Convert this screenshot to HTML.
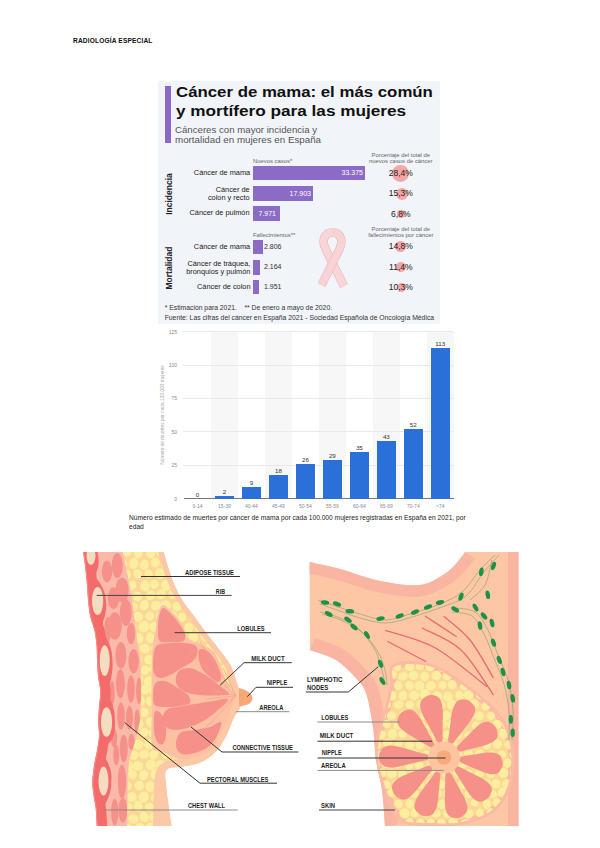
<!DOCTYPE html>
<html><head><meta charset="utf-8">
<style>
*{margin:0;padding:0;box-sizing:border-box}
html,body{width:600px;height:848px;background:#fff;overflow:hidden;font-family:"Liberation Sans",sans-serif}
.a{position:absolute;white-space:nowrap}
#hdr{left:73px;top:36.8px;font-size:6.6px;font-weight:bold;color:#111;letter-spacing:0.15px}
#info{position:absolute;left:158px;top:81px;width:282px;height:243px;background:#f1f4f9}
#info .a{line-height:1}
.lab{font-size:6.8px;color:#222;text-align:right;transform:scaleX(1.08);transform-origin:100% 0}
.sm{font-size:5.9px;color:#666}
.pct{font-size:8.5px;color:#222}
.circ{position:absolute;border-radius:50%;background:#f6a6a6}
.bar{position:absolute;background:#8c6bc7}
#chart{position:absolute;left:140px;top:325px;width:318px;height:185px}
.band{position:absolute;top:6px;height:168px;width:27px;background:#f7f7f8}
.grid{position:absolute;left:43px;width:270px;height:1px;background:#eaeaea}
.ylab{position:absolute;width:20px;text-align:right;font-size:4.5px;color:#777;left:17px}
.cb{position:absolute;width:19px;background:#2b6fd8}
.vl{position:absolute;width:27px;text-align:center;font-size:5px;color:#333;font-weight:bold}
.xl{position:absolute;width:27px;text-align:center;font-size:4.5px;color:#777;top:177px}
</style></head>
<body>
<div class="a" id="hdr">RADIOLOGÍA ESPECIAL</div>

<div id="info">
<div style="position:absolute;left:7px;top:4.7px;width:6px;height:57.6px;background:#8b67c6"></div>
<div class="a" id="t1" style="left:18px;top:3.8px;font-size:14.5px;transform:scaleX(1.159);transform-origin:0 0;font-weight:bold;color:#111">Cáncer de mama: el más común</div>
<div class="a" id="t2" style="left:18px;top:22.9px;font-size:14.5px;transform:scaleX(1.185);transform-origin:0 0;font-weight:bold;color:#111">y mortífero para las mujeres</div>
<div class="a" id="s1" style="left:17.3px;top:44.7px;font-size:8.8px;transform:scaleX(1.097);transform-origin:0 0;color:#555">Cánceres con mayor incidencia y</div>
<div class="a" id="s2" style="left:17.3px;top:55.4px;font-size:8.8px;transform:scaleX(1.11);transform-origin:0 0;color:#555">mortalidad en mujeres en España</div>

<div class="a" style="left:10.6px;top:112.8px;transform:translate(-50%,-50%) rotate(-90deg);font-size:8.5px;font-weight:bold;color:#222">Incidencia</div>
<div class="a" style="left:10.6px;top:187px;transform:translate(-50%,-50%) rotate(-90deg);font-size:8.5px;font-weight:bold;color:#222">Mortalidad</div>

<div class="a sm" style="left:95px;top:77.5px">Nuevos casos*</div>
<div class="a sm" style="left:95px;top:151.5px">Fallecimientos**</div>
<div class="a sm" style="left:242.8px;top:71px;transform:translateX(-50%);text-align:center;line-height:6px">Porcentaje del total de<br>nuevos casos de cáncer</div>
<div class="a sm" style="left:242.8px;top:145px;transform:translateX(-50%);text-align:center;line-height:6px">Porcentaje del total de<br>fallecimientos por cáncer</div>

<div class="bar" style="left:95px;top:85px;width:112.3px;height:14px"></div>
<div class="bar" style="left:95px;top:105.3px;width:60.3px;height:14.7px"></div>
<div class="bar" style="left:95px;top:125.4px;width:26.7px;height:14.9px"></div>
<div class="bar" style="left:95px;top:158.7px;width:9.7px;height:14.7px"></div>
<div class="bar" style="left:95px;top:179px;width:6.9px;height:14.5px"></div>
<div class="bar" style="left:95px;top:198.8px;width:6.2px;height:14.5px"></div>

<div class="a" style="left:188px;top:88px;font-size:7px;color:#fff;width:17px;text-align:right;direction:rtl">33.375</div>
<div class="a" style="left:136px;top:108.5px;font-size:7px;color:#fff;width:17px;text-align:right;direction:rtl">17.903</div>
<div class="a" style="left:100.5px;top:128.8px;font-size:7px;color:#fff">7.971</div>
<div class="a" style="left:106px;top:162px;font-size:7px;color:#333">2.806</div>
<div class="a" style="left:106px;top:182.3px;font-size:7px;color:#333">2.164</div>
<div class="a" style="left:106px;top:202px;font-size:7px;color:#333">1.951</div>

<div class="a lab" style="right:190px;top:88.5px">Cáncer de mama</div>
<div class="a lab" style="right:190px;top:104.5px;line-height:8.5px">Cáncer de<br>colon y recto</div>
<div class="a lab" style="right:190px;top:129px">Cáncer de pulmón</div>
<div class="a lab" style="right:190px;top:162.5px">Cáncer de mama</div>
<div class="a lab" style="right:190px;top:178.5px;line-height:8.5px">Cáncer de tráquea,<br>bronquios y pulmón</div>
<div class="a lab" style="right:190px;top:202.5px">Cáncer de colon</div>

<div class="circ" style="left:234.3px;top:84px;width:17px;height:17px"></div>
<div class="circ" style="left:238px;top:106.5px;width:12px;height:12px"></div>
<div class="circ" style="left:239.3px;top:129.3px;width:7.5px;height:7.5px"></div>
<div class="circ" style="left:237.3px;top:160.3px;width:11px;height:11px"></div>
<div class="circ" style="left:238px;top:181px;width:10px;height:10px"></div>
<div class="circ" style="left:238.5px;top:201.5px;width:9px;height:9px"></div>

<div class="a pct" style="left:242.8px;top:87.5px;transform:translateX(-50%)">28,4%</div>
<div class="a pct" style="left:242.8px;top:107.5px;transform:translateX(-50%)">15,3%</div>
<div class="a pct" style="left:242.8px;top:128.5px;transform:translateX(-50%)">6,8%</div>
<div class="a pct" style="left:242.8px;top:161px;transform:translateX(-50%)">14,8%</div>
<div class="a pct" style="left:242.8px;top:181.5px;transform:translateX(-50%)">11,4%</div>
<div class="a pct" style="left:242.8px;top:201.5px;transform:translateX(-50%)">10,3%</div>

<svg style="position:absolute;left:160px;top:147px" width="30" height="62" viewBox="0 0 30 62">
<g fill="none" stroke-linecap="butt" stroke-linejoin="round">
<path d="M14.5,4.5 C6,4.5 3.5,13 7.5,21 L26,58" stroke="#f0b4b8" stroke-width="8.6"/>
<path d="M14.5,4.5 C6,4.5 3.5,13 7.5,21 L26,58" stroke="#f8d6d8" stroke-width="7.4"/>
<path d="M14.5,4.5 C23,4.5 25.5,13 21.5,21 L3.5,57" stroke="#f0b4b8" stroke-width="8.6"/>
<path d="M14.5,4.5 C23,4.5 25.5,13 21.5,21 L3.5,57" stroke="#f8d3d6" stroke-width="7.4"/>
</g>
</svg>

<div class="a" style="left:6.7px;top:223.5px;font-size:6.8px;color:#333">* Estimación para 2021.&nbsp;&nbsp;&nbsp;&nbsp;** De enero a mayo de 2020.</div>
<div class="a" style="left:6.7px;top:233.5px;font-size:6.8px;color:#333">Fuente: Las cifras del cáncer en España 2021 - Sociedad Española de Oncología Médica</div>
</div>

<div id="chart">
<div style="position:absolute;left:70.97px;top:6.5px;width:27px;height:167.3px;background:#f7f7f8"></div>
<div style="position:absolute;left:124.93px;top:6.5px;width:27px;height:167.3px;background:#f7f7f8"></div>
<div style="position:absolute;left:178.88px;top:6.5px;width:27px;height:167.3px;background:#f7f7f8"></div>
<div style="position:absolute;left:232.83px;top:6.5px;width:27px;height:167.3px;background:#f7f7f8"></div>
<div style="position:absolute;left:286.77px;top:6.5px;width:27px;height:167.3px;background:#f7f7f8"></div>
<div style="position:absolute;left:43px;top:6.0px;width:270px;height:1px;background:#e9e9e9"></div>
<div style="position:absolute;left:17px;top:3.5px;width:20px;height:6px;line-height:6px;text-align:right;font-size:5px;color:#8a8a8a">125</div>
<div style="position:absolute;left:43px;top:39.5px;width:270px;height:1px;background:#e9e9e9"></div>
<div style="position:absolute;left:17px;top:37.0px;width:20px;height:6px;line-height:6px;text-align:right;font-size:5px;color:#8a8a8a">100</div>
<div style="position:absolute;left:43px;top:72.9px;width:270px;height:1px;background:#e9e9e9"></div>
<div style="position:absolute;left:17px;top:70.4px;width:20px;height:6px;line-height:6px;text-align:right;font-size:5px;color:#8a8a8a">75</div>
<div style="position:absolute;left:43px;top:106.4px;width:270px;height:1px;background:#e9e9e9"></div>
<div style="position:absolute;left:17px;top:103.9px;width:20px;height:6px;line-height:6px;text-align:right;font-size:5px;color:#8a8a8a">50</div>
<div style="position:absolute;left:43px;top:139.8px;width:270px;height:1px;background:#e9e9e9"></div>
<div style="position:absolute;left:17px;top:137.3px;width:20px;height:6px;line-height:6px;text-align:right;font-size:5px;color:#8a8a8a">25</div>
<div style="position:absolute;left:17px;top:170.8px;width:20px;height:6px;line-height:6px;text-align:right;font-size:5px;color:#8a8a8a">0</div>
<div style="position:absolute;left:43.5px;top:173.2px;width:270px;height:1.3px;background:#777"></div>
<div style="position:absolute;left:42.50px;top:166.80px;width:30px;height:6px;line-height:6px;text-align:center;font-size:6.2px;color:#333">0</div>
<div style="position:absolute;left:42.50px;top:177.60px;width:30px;height:6px;line-height:6px;text-align:center;font-size:5px;color:#8a8a8a">0-14</div>
<div style="position:absolute;left:74.97px;top:171.12px;width:19px;height:2.68px;background:#2b70d9"></div>
<div style="position:absolute;left:69.47px;top:164.12px;width:30px;height:6px;line-height:6px;text-align:center;font-size:6.2px;color:#333">2</div>
<div style="position:absolute;left:69.47px;top:177.60px;width:30px;height:6px;line-height:6px;text-align:center;font-size:5px;color:#8a8a8a">15-39</div>
<div style="position:absolute;left:101.95px;top:161.75px;width:19px;height:12.05px;background:#2b70d9"></div>
<div style="position:absolute;left:96.45px;top:154.75px;width:30px;height:6px;line-height:6px;text-align:center;font-size:6.2px;color:#333">9</div>
<div style="position:absolute;left:96.45px;top:177.60px;width:30px;height:6px;line-height:6px;text-align:center;font-size:5px;color:#8a8a8a">40-44</div>
<div style="position:absolute;left:128.93px;top:149.71px;width:19px;height:24.09px;background:#2b70d9"></div>
<div style="position:absolute;left:123.43px;top:142.71px;width:30px;height:6px;line-height:6px;text-align:center;font-size:6.2px;color:#333">18</div>
<div style="position:absolute;left:123.43px;top:177.60px;width:30px;height:6px;line-height:6px;text-align:center;font-size:5px;color:#8a8a8a">45-49</div>
<div style="position:absolute;left:155.90px;top:139.00px;width:19px;height:34.80px;background:#2b70d9"></div>
<div style="position:absolute;left:150.40px;top:132.00px;width:30px;height:6px;line-height:6px;text-align:center;font-size:6.2px;color:#333">26</div>
<div style="position:absolute;left:150.40px;top:177.60px;width:30px;height:6px;line-height:6px;text-align:center;font-size:5px;color:#8a8a8a">50-54</div>
<div style="position:absolute;left:182.88px;top:134.99px;width:19px;height:38.81px;background:#2b70d9"></div>
<div style="position:absolute;left:177.38px;top:127.99px;width:30px;height:6px;line-height:6px;text-align:center;font-size:6.2px;color:#333">29</div>
<div style="position:absolute;left:177.38px;top:177.60px;width:30px;height:6px;line-height:6px;text-align:center;font-size:5px;color:#8a8a8a">55-59</div>
<div style="position:absolute;left:209.85px;top:126.96px;width:19px;height:46.84px;background:#2b70d9"></div>
<div style="position:absolute;left:204.35px;top:119.96px;width:30px;height:6px;line-height:6px;text-align:center;font-size:6.2px;color:#333">35</div>
<div style="position:absolute;left:204.35px;top:177.60px;width:30px;height:6px;line-height:6px;text-align:center;font-size:5px;color:#8a8a8a">60-64</div>
<div style="position:absolute;left:236.83px;top:116.25px;width:19px;height:57.55px;background:#2b70d9"></div>
<div style="position:absolute;left:231.33px;top:109.25px;width:30px;height:6px;line-height:6px;text-align:center;font-size:6.2px;color:#333">43</div>
<div style="position:absolute;left:231.33px;top:177.60px;width:30px;height:6px;line-height:6px;text-align:center;font-size:5px;color:#8a8a8a">65-69</div>
<div style="position:absolute;left:263.80px;top:104.20px;width:19px;height:69.60px;background:#2b70d9"></div>
<div style="position:absolute;left:258.30px;top:97.20px;width:30px;height:6px;line-height:6px;text-align:center;font-size:6.2px;color:#333">52</div>
<div style="position:absolute;left:258.30px;top:177.60px;width:30px;height:6px;line-height:6px;text-align:center;font-size:5px;color:#8a8a8a">70-74</div>
<div style="position:absolute;left:290.77px;top:22.56px;width:19px;height:151.24px;background:#2b70d9"></div>
<div style="position:absolute;left:285.27px;top:15.56px;width:30px;height:6px;line-height:6px;text-align:center;font-size:6.2px;color:#333">113</div>
<div style="position:absolute;left:285.27px;top:177.60px;width:30px;height:6px;line-height:6px;text-align:center;font-size:5px;color:#8a8a8a">&gt;74</div>
<div style="position:absolute;left:23px;top:90.30000000000001px;transform:translate(-50%,-50%) rotate(-90deg);white-space:nowrap;font-size:4.8px;line-height:6px;color:#aaa">Número de muertes por cada 100.000 mujeres</div>
</div>

<div class="a" style="left:129px;top:513px;font-size:6.65px;color:#222;line-height:9px;white-space:normal;width:350px">Número estimado de muertes por cáncer de mama por cada 100.000 mujeres registradas en España en 2021, por edad</div>

<svg style="position:absolute;left:0;top:0" width="600" height="848" viewBox="0 0 600 848" font-family="Liberation Sans, sans-serif"><clipPath id="lc"><path d="M164.0,552.0 C164.7,554.5 166.6,561.5 168.3,566.7 C170.0,571.9 171.6,577.5 174.0,583.0 C176.4,588.5 179.0,594.3 182.5,600.0 C186.0,605.7 191.0,611.5 195.0,617.0 C199.0,622.5 202.5,627.5 206.7,633.0 C210.9,638.5 215.8,644.4 220.0,650.0 C224.2,655.6 228.8,661.0 231.7,666.7 C234.6,672.4 235.9,679.1 237.5,684.0 C239.1,688.9 240.6,692.0 241.0,696.0 C241.4,700.0 241.2,704.3 240.0,708.0 C238.8,711.7 236.2,713.5 234.0,718.0 C231.8,722.5 230.0,729.3 227.0,735.0 C224.0,740.7 220.5,747.3 216.0,752.0 C211.5,756.7 205.7,760.5 200.0,763.0 C194.3,765.5 187.5,765.8 182.0,767.0 C176.5,768.2 169.6,766.8 167.0,770.0 C164.4,773.2 166.1,779.3 166.5,786.0 C166.9,792.7 168.6,803.3 169.5,810.0 C170.4,816.7 171.6,823.3 172.0,826.0 L96.7,826 C96.5,823.0 96.1,813.0 95.6,808.0 C95.1,803.0 94.1,800.3 93.5,796.0 C92.9,791.7 92.1,787.2 92.2,782.0 C92.3,776.8 93.2,770.3 94.0,765.0 C94.8,759.7 96.2,754.8 97.0,750.0 C97.8,745.2 98.8,740.8 99.0,736.0 C99.2,731.2 98.0,726.0 98.0,721.0 C98.0,716.0 98.6,711.0 99.0,706.0 C99.4,701.0 100.5,695.8 100.3,691.0 C100.1,686.2 98.5,682.0 98.0,677.0 C97.5,672.0 97.2,666.2 97.0,661.0 C96.8,655.8 96.9,651.0 96.5,646.0 C96.1,641.0 95.6,636.0 94.5,631.0 C93.4,626.0 91.1,621.0 90.0,616.0 C88.9,611.0 88.5,606.0 88.0,601.0 C87.5,596.0 87.5,591.8 87.0,586.0 C86.5,580.2 85.7,571.7 85.0,566.0 C84.3,560.3 83.3,554.3 83.0,552.0 Z"/><rect x="236" y="680" width="20" height="30"/></clipPath>
<g clip-path="url(#lc)">
<path d="M164.0,552.0 C164.7,554.5 166.6,561.5 168.3,566.7 C170.0,571.9 171.6,577.5 174.0,583.0 C176.4,588.5 179.0,594.3 182.5,600.0 C186.0,605.7 191.0,611.5 195.0,617.0 C199.0,622.5 202.5,627.5 206.7,633.0 C210.9,638.5 215.8,644.4 220.0,650.0 C224.2,655.6 228.8,661.0 231.7,666.7 C234.6,672.4 235.9,679.1 237.5,684.0 C239.1,688.9 240.6,692.0 241.0,696.0 C241.4,700.0 241.2,704.3 240.0,708.0 C238.8,711.7 236.2,713.5 234.0,718.0 C231.8,722.5 230.0,729.3 227.0,735.0 C224.0,740.7 220.5,747.3 216.0,752.0 C211.5,756.7 205.7,760.5 200.0,763.0 C194.3,765.5 187.5,765.8 182.0,767.0 C176.5,768.2 169.6,766.8 167.0,770.0 C164.4,773.2 166.1,779.3 166.5,786.0 C166.9,792.7 168.6,803.3 169.5,810.0 C170.4,816.7 171.6,823.3 172.0,826.0 L96.7,826 C96.5,823.0 96.1,813.0 95.6,808.0 C95.1,803.0 94.1,800.3 93.5,796.0 C92.9,791.7 92.1,787.2 92.2,782.0 C92.3,776.8 93.2,770.3 94.0,765.0 C94.8,759.7 96.2,754.8 97.0,750.0 C97.8,745.2 98.8,740.8 99.0,736.0 C99.2,731.2 98.0,726.0 98.0,721.0 C98.0,716.0 98.6,711.0 99.0,706.0 C99.4,701.0 100.5,695.8 100.3,691.0 C100.1,686.2 98.5,682.0 98.0,677.0 C97.5,672.0 97.2,666.2 97.0,661.0 C96.8,655.8 96.9,651.0 96.5,646.0 C96.1,641.0 95.6,636.0 94.5,631.0 C93.4,626.0 91.1,621.0 90.0,616.0 C88.9,611.0 88.5,606.0 88.0,601.0 C87.5,596.0 87.5,591.8 87.0,586.0 C86.5,580.2 85.7,571.7 85.0,566.0 C84.3,560.3 83.3,554.3 83.0,552.0 Z" fill="#fdc8a6"/>
<clipPath id="fatc"><path d="M158.0,552.0 C158.7,554.3 160.3,560.8 162.0,566.0 C163.7,571.2 165.6,577.3 168.0,583.0 C170.4,588.7 173.2,594.5 176.5,600.0 C179.8,605.5 184.2,610.7 188.0,616.0 C191.8,621.3 195.0,626.5 199.0,632.0 C203.0,637.5 207.8,643.5 212.0,649.0 C216.2,654.5 221.0,659.2 224.0,665.0 C227.0,670.8 228.5,678.8 230.0,684.0 C231.5,689.2 232.7,692.0 233.0,696.0 C233.3,700.0 233.0,704.3 232.0,708.0 C231.0,711.7 229.0,713.8 227.0,718.0 C225.0,722.2 223.0,728.3 220.0,733.0 C217.0,737.7 213.2,742.3 209.0,746.0 C204.8,749.7 200.2,752.8 195.0,755.0 C189.8,757.2 183.3,757.7 178.0,759.0 C172.7,760.3 166.8,760.2 163.0,763.0 C159.2,765.8 156.7,765.5 155.0,776.0 C153.3,786.5 153.3,817.7 153.0,826.0 L127,826 L127.5,780 L129,760 L135.5,740 L140,720 L141,700 L140.5,660 L137,640 L132,600 L127.5,575 L122.7,552 Z"/></clipPath>
<path d="M158.0,552.0 C158.7,554.3 160.3,560.8 162.0,566.0 C163.7,571.2 165.6,577.3 168.0,583.0 C170.4,588.7 173.2,594.5 176.5,600.0 C179.8,605.5 184.2,610.7 188.0,616.0 C191.8,621.3 195.0,626.5 199.0,632.0 C203.0,637.5 207.8,643.5 212.0,649.0 C216.2,654.5 221.0,659.2 224.0,665.0 C227.0,670.8 228.5,678.8 230.0,684.0 C231.5,689.2 232.7,692.0 233.0,696.0 C233.3,700.0 233.0,704.3 232.0,708.0 C231.0,711.7 229.0,713.8 227.0,718.0 C225.0,722.2 223.0,728.3 220.0,733.0 C217.0,737.7 213.2,742.3 209.0,746.0 C204.8,749.7 200.2,752.8 195.0,755.0 C189.8,757.2 183.3,757.7 178.0,759.0 C172.7,760.3 166.8,760.2 163.0,763.0 C159.2,765.8 156.7,765.5 155.0,776.0 C153.3,786.5 153.3,817.7 153.0,826.0 L127,826 L127.5,780 L129,760 L135.5,740 L140,720 L141,700 L140.5,660 L137,640 L132,600 L127.5,575 L122.7,552 Z" fill="#fbd697"/>
<g clip-path="url(#fatc)" fill="#fbee9e"><ellipse cx="116.4" cy="552.0" rx="4.6" ry="4.6" transform="rotate(2 116.4 552.0)"/><ellipse cx="127.2" cy="551.9" rx="4.6" ry="4.5" transform="rotate(-4 127.2 551.9)"/><ellipse cx="138.2" cy="553.8" rx="4.3" ry="4.5" transform="rotate(-23 138.2 553.8)"/><ellipse cx="150.7" cy="553.2" rx="4.5" ry="5.3" transform="rotate(-6 150.7 553.2)"/><ellipse cx="161.7" cy="552.5" rx="5.4" ry="4.5" transform="rotate(-21 161.7 552.5)"/><ellipse cx="172.8" cy="552.2" rx="4.3" ry="4.8" transform="rotate(5 172.8 552.2)"/><ellipse cx="183.3" cy="552.0" rx="5.0" ry="4.9" transform="rotate(-26 183.3 552.0)"/><ellipse cx="194.2" cy="552.6" rx="4.4" ry="5.4" transform="rotate(5 194.2 552.6)"/><ellipse cx="206.3" cy="553.5" rx="4.7" ry="4.8" transform="rotate(-15 206.3 553.5)"/><ellipse cx="217.7" cy="553.6" rx="4.9" ry="5.1" transform="rotate(-13 217.7 553.6)"/><ellipse cx="227.8" cy="553.6" rx="5.4" ry="4.6" transform="rotate(-21 227.8 553.6)"/><ellipse cx="239.6" cy="553.6" rx="4.8" ry="4.5" transform="rotate(4 239.6 553.6)"/><ellipse cx="122.0" cy="563.8" rx="5.3" ry="4.8" transform="rotate(5 122.0 563.8)"/><ellipse cx="133.8" cy="563.5" rx="4.7" ry="5.6" transform="rotate(10 133.8 563.5)"/><ellipse cx="144.3" cy="564.8" rx="4.3" ry="5.4" transform="rotate(19 144.3 564.8)"/><ellipse cx="155.5" cy="562.5" rx="4.5" ry="4.9" transform="rotate(-2 155.5 562.5)"/><ellipse cx="165.2" cy="564.2" rx="4.4" ry="4.6" transform="rotate(-22 165.2 564.2)"/><ellipse cx="178.4" cy="562.6" rx="4.5" ry="4.9" transform="rotate(-3 178.4 562.6)"/><ellipse cx="189.5" cy="564.5" rx="4.9" ry="5.6" transform="rotate(-13 189.5 564.5)"/><ellipse cx="200.8" cy="564.7" rx="4.7" ry="4.9" transform="rotate(-21 200.8 564.7)"/><ellipse cx="210.5" cy="563.6" rx="4.4" ry="4.7" transform="rotate(5 210.5 563.6)"/><ellipse cx="222.1" cy="563.3" rx="4.5" ry="4.4" transform="rotate(4 222.1 563.3)"/><ellipse cx="233.5" cy="563.9" rx="5.3" ry="5.4" transform="rotate(11 233.5 563.9)"/><ellipse cx="116.7" cy="575.1" rx="4.3" ry="5.7" transform="rotate(18 116.7 575.1)"/><ellipse cx="126.2" cy="574.5" rx="4.7" ry="5.0" transform="rotate(-26 126.2 574.5)"/><ellipse cx="137.6" cy="573.8" rx="4.3" ry="4.7" transform="rotate(-27 137.6 573.8)"/><ellipse cx="148.6" cy="573.9" rx="4.2" ry="4.6" transform="rotate(-28 148.6 573.9)"/><ellipse cx="160.0" cy="573.6" rx="5.2" ry="5.3" transform="rotate(-9 160.0 573.6)"/><ellipse cx="172.8" cy="575.4" rx="4.6" ry="4.6" transform="rotate(-2 172.8 575.4)"/><ellipse cx="182.2" cy="573.8" rx="4.8" ry="4.5" transform="rotate(-14 182.2 573.8)"/><ellipse cx="193.3" cy="575.3" rx="5.2" ry="4.6" transform="rotate(2 193.3 575.3)"/><ellipse cx="204.5" cy="574.3" rx="4.4" ry="5.2" transform="rotate(29 204.5 574.3)"/><ellipse cx="216.2" cy="573.9" rx="5.2" ry="5.4" transform="rotate(-20 216.2 573.9)"/><ellipse cx="228.7" cy="573.8" rx="5.1" ry="5.1" transform="rotate(-17 228.7 573.8)"/><ellipse cx="240.0" cy="574.9" rx="5.2" ry="5.8" transform="rotate(19 240.0 574.9)"/><ellipse cx="121.5" cy="584.5" rx="5.1" ry="4.7" transform="rotate(-28 121.5 584.5)"/><ellipse cx="132.1" cy="585.3" rx="4.2" ry="4.8" transform="rotate(27 132.1 585.3)"/><ellipse cx="145.1" cy="585.9" rx="4.7" ry="5.7" transform="rotate(-8 145.1 585.9)"/><ellipse cx="154.4" cy="584.1" rx="4.5" ry="4.7" transform="rotate(7 154.4 584.1)"/><ellipse cx="166.3" cy="585.2" rx="5.3" ry="5.6" transform="rotate(18 166.3 585.2)"/><ellipse cx="178.5" cy="585.5" rx="4.3" ry="5.3" transform="rotate(15 178.5 585.5)"/><ellipse cx="189.4" cy="584.4" rx="4.8" ry="4.6" transform="rotate(18 189.4 584.4)"/><ellipse cx="199.7" cy="585.9" rx="5.4" ry="5.0" transform="rotate(13 199.7 585.9)"/><ellipse cx="210.3" cy="585.8" rx="4.4" ry="4.6" transform="rotate(18 210.3 585.8)"/><ellipse cx="223.5" cy="585.2" rx="4.4" ry="5.6" transform="rotate(-9 223.5 585.2)"/><ellipse cx="232.3" cy="585.9" rx="4.9" ry="4.6" transform="rotate(9 232.3 585.9)"/><ellipse cx="115.8" cy="596.3" rx="4.8" ry="5.7" transform="rotate(20 115.8 596.3)"/><ellipse cx="126.7" cy="594.8" rx="4.5" ry="4.8" transform="rotate(5 126.7 594.8)"/><ellipse cx="137.5" cy="596.4" rx="4.5" ry="5.0" transform="rotate(-9 137.5 596.4)"/><ellipse cx="150.6" cy="595.2" rx="4.7" ry="5.2" transform="rotate(25 150.6 595.2)"/><ellipse cx="160.9" cy="594.2" rx="4.8" ry="5.1" transform="rotate(-4 160.9 594.2)"/><ellipse cx="172.7" cy="594.6" rx="4.4" ry="4.4" transform="rotate(-2 172.7 594.6)"/><ellipse cx="182.8" cy="595.4" rx="5.1" ry="5.2" transform="rotate(3 182.8 595.4)"/><ellipse cx="194.5" cy="594.8" rx="5.1" ry="4.5" transform="rotate(-13 194.5 594.8)"/><ellipse cx="205.7" cy="596.0" rx="5.1" ry="5.1" transform="rotate(25 205.7 596.0)"/><ellipse cx="216.8" cy="595.4" rx="4.7" ry="5.3" transform="rotate(12 216.8 595.4)"/><ellipse cx="227.9" cy="596.5" rx="4.7" ry="5.1" transform="rotate(12 227.9 596.5)"/><ellipse cx="238.6" cy="595.5" rx="5.3" ry="5.7" transform="rotate(27 238.6 595.5)"/><ellipse cx="120.6" cy="605.9" rx="5.2" ry="4.6" transform="rotate(-26 120.6 605.9)"/><ellipse cx="133.1" cy="606.7" rx="4.5" ry="4.5" transform="rotate(24 133.1 606.7)"/><ellipse cx="144.3" cy="605.1" rx="4.4" ry="5.4" transform="rotate(23 144.3 605.1)"/><ellipse cx="156.2" cy="605.8" rx="5.4" ry="4.7" transform="rotate(-1 156.2 605.8)"/><ellipse cx="165.5" cy="605.8" rx="5.4" ry="5.6" transform="rotate(1 165.5 605.8)"/><ellipse cx="177.1" cy="606.5" rx="4.6" ry="4.7" transform="rotate(-29 177.1 606.5)"/><ellipse cx="187.5" cy="605.6" rx="4.9" ry="5.0" transform="rotate(7 187.5 605.6)"/><ellipse cx="201.1" cy="606.7" rx="4.8" ry="4.5" transform="rotate(28 201.1 606.7)"/><ellipse cx="210.0" cy="606.7" rx="4.3" ry="4.8" transform="rotate(-14 210.0 606.7)"/><ellipse cx="223.3" cy="606.8" rx="4.4" ry="5.0" transform="rotate(-14 223.3 606.8)"/><ellipse cx="233.7" cy="606.5" rx="4.4" ry="5.7" transform="rotate(-25 233.7 606.5)"/><ellipse cx="115.8" cy="615.6" rx="4.3" ry="5.4" transform="rotate(26 115.8 615.6)"/><ellipse cx="126.2" cy="617.5" rx="5.0" ry="5.5" transform="rotate(-26 126.2 617.5)"/><ellipse cx="138.0" cy="616.7" rx="5.2" ry="5.0" transform="rotate(26 138.0 616.7)"/><ellipse cx="149.7" cy="616.0" rx="4.5" ry="4.6" transform="rotate(-23 149.7 616.0)"/><ellipse cx="160.1" cy="616.1" rx="4.4" ry="4.5" transform="rotate(-12 160.1 616.1)"/><ellipse cx="172.0" cy="615.8" rx="5.1" ry="4.8" transform="rotate(-9 172.0 615.8)"/><ellipse cx="182.0" cy="617.2" rx="4.2" ry="4.8" transform="rotate(3 182.0 617.2)"/><ellipse cx="195.4" cy="615.7" rx="4.4" ry="5.1" transform="rotate(19 195.4 615.7)"/><ellipse cx="206.4" cy="616.3" rx="4.7" ry="5.1" transform="rotate(0 206.4 616.3)"/><ellipse cx="216.4" cy="617.4" rx="5.0" ry="5.8" transform="rotate(12 216.4 617.4)"/><ellipse cx="227.6" cy="615.5" rx="5.0" ry="5.0" transform="rotate(-22 227.6 615.5)"/><ellipse cx="238.6" cy="615.8" rx="4.3" ry="5.4" transform="rotate(-25 238.6 615.8)"/><ellipse cx="121.9" cy="626.7" rx="5.2" ry="5.6" transform="rotate(-15 121.9 626.7)"/><ellipse cx="131.9" cy="627.1" rx="4.6" ry="5.0" transform="rotate(-14 131.9 627.1)"/><ellipse cx="144.0" cy="626.6" rx="5.4" ry="5.8" transform="rotate(28 144.0 626.6)"/><ellipse cx="153.9" cy="626.9" rx="4.6" ry="4.9" transform="rotate(-2 153.9 626.9)"/><ellipse cx="166.3" cy="626.0" rx="4.8" ry="4.7" transform="rotate(-14 166.3 626.0)"/><ellipse cx="176.4" cy="626.1" rx="4.3" ry="5.0" transform="rotate(-12 176.4 626.1)"/><ellipse cx="188.8" cy="627.8" rx="4.5" ry="5.2" transform="rotate(9 188.8 627.8)"/><ellipse cx="199.6" cy="626.8" rx="5.1" ry="5.6" transform="rotate(29 199.6 626.8)"/><ellipse cx="211.4" cy="626.1" rx="4.4" ry="5.4" transform="rotate(20 211.4 626.1)"/><ellipse cx="222.9" cy="627.9" rx="5.3" ry="5.3" transform="rotate(-22 222.9 627.9)"/><ellipse cx="234.3" cy="627.9" rx="4.8" ry="5.1" transform="rotate(20 234.3 627.9)"/><ellipse cx="116.4" cy="638.3" rx="4.9" ry="5.6" transform="rotate(-16 116.4 638.3)"/><ellipse cx="126.9" cy="636.9" rx="4.2" ry="4.6" transform="rotate(20 126.9 636.9)"/><ellipse cx="138.7" cy="638.2" rx="4.9" ry="5.3" transform="rotate(-1 138.7 638.2)"/><ellipse cx="150.2" cy="637.8" rx="4.2" ry="5.5" transform="rotate(2 150.2 637.8)"/><ellipse cx="161.4" cy="637.2" rx="5.0" ry="4.5" transform="rotate(-26 161.4 637.2)"/><ellipse cx="171.3" cy="638.4" rx="4.5" ry="5.4" transform="rotate(29 171.3 638.4)"/><ellipse cx="183.1" cy="638.2" rx="4.8" ry="4.9" transform="rotate(16 183.1 638.2)"/><ellipse cx="193.4" cy="637.0" rx="4.9" ry="5.3" transform="rotate(-15 193.4 637.0)"/><ellipse cx="205.8" cy="636.6" rx="5.1" ry="4.8" transform="rotate(-26 205.8 636.6)"/><ellipse cx="217.3" cy="638.2" rx="4.5" ry="5.3" transform="rotate(-13 217.3 638.2)"/><ellipse cx="227.9" cy="636.9" rx="4.8" ry="5.1" transform="rotate(24 227.9 636.9)"/><ellipse cx="240.2" cy="636.6" rx="4.4" ry="5.8" transform="rotate(-2 240.2 636.6)"/><ellipse cx="121.4" cy="647.8" rx="5.2" ry="5.8" transform="rotate(-17 121.4 647.8)"/><ellipse cx="132.9" cy="647.5" rx="5.3" ry="4.7" transform="rotate(1 132.9 647.5)"/><ellipse cx="144.7" cy="648.4" rx="5.3" ry="4.6" transform="rotate(23 144.7 648.4)"/><ellipse cx="156.1" cy="648.4" rx="5.0" ry="4.7" transform="rotate(-29 156.1 648.4)"/><ellipse cx="166.2" cy="647.9" rx="4.2" ry="5.1" transform="rotate(-22 166.2 647.9)"/><ellipse cx="178.3" cy="647.2" rx="4.6" ry="4.8" transform="rotate(15 178.3 647.2)"/><ellipse cx="189.7" cy="648.9" rx="5.2" ry="4.6" transform="rotate(24 189.7 648.9)"/><ellipse cx="199.6" cy="649.6" rx="4.5" ry="4.9" transform="rotate(5 199.6 649.6)"/><ellipse cx="210.6" cy="647.3" rx="4.6" ry="5.0" transform="rotate(-24 210.6 647.3)"/><ellipse cx="223.3" cy="647.8" rx="5.2" ry="4.8" transform="rotate(-14 223.3 647.8)"/><ellipse cx="233.2" cy="649.5" rx="4.8" ry="4.7" transform="rotate(23 233.2 649.5)"/><ellipse cx="117.0" cy="660.1" rx="5.2" ry="5.3" transform="rotate(3 117.0 660.1)"/><ellipse cx="127.8" cy="658.9" rx="5.1" ry="4.5" transform="rotate(15 127.8 658.9)"/><ellipse cx="137.3" cy="660.0" rx="5.0" ry="4.8" transform="rotate(-22 137.3 660.0)"/><ellipse cx="149.1" cy="659.6" rx="4.8" ry="4.9" transform="rotate(29 149.1 659.6)"/><ellipse cx="160.3" cy="659.1" rx="4.5" ry="5.3" transform="rotate(-6 160.3 659.1)"/><ellipse cx="171.3" cy="660.0" rx="4.4" ry="4.6" transform="rotate(-0 171.3 660.0)"/><ellipse cx="184.4" cy="658.9" rx="4.5" ry="5.7" transform="rotate(-22 184.4 658.9)"/><ellipse cx="194.0" cy="658.0" rx="4.4" ry="4.5" transform="rotate(-16 194.0 658.0)"/><ellipse cx="206.5" cy="659.6" rx="4.5" ry="5.2" transform="rotate(-5 206.5 659.6)"/><ellipse cx="216.5" cy="658.6" rx="4.7" ry="5.1" transform="rotate(-26 216.5 658.6)"/><ellipse cx="227.1" cy="659.0" rx="4.5" ry="5.8" transform="rotate(8 227.1 659.0)"/><ellipse cx="238.7" cy="658.4" rx="5.2" ry="4.7" transform="rotate(-6 238.7 658.4)"/><ellipse cx="122.3" cy="670.5" rx="4.7" ry="5.7" transform="rotate(-29 122.3 670.5)"/><ellipse cx="133.6" cy="669.5" rx="4.2" ry="5.4" transform="rotate(5 133.6 669.5)"/><ellipse cx="144.9" cy="670.4" rx="4.2" ry="4.9" transform="rotate(21 144.9 670.4)"/><ellipse cx="154.2" cy="668.8" rx="5.4" ry="4.7" transform="rotate(1 154.2 668.8)"/><ellipse cx="166.8" cy="670.0" rx="5.0" ry="5.7" transform="rotate(16 166.8 670.0)"/><ellipse cx="176.4" cy="670.3" rx="4.7" ry="5.2" transform="rotate(-16 176.4 670.3)"/><ellipse cx="188.2" cy="668.7" rx="5.3" ry="5.3" transform="rotate(-15 188.2 668.7)"/><ellipse cx="199.0" cy="668.6" rx="5.0" ry="5.4" transform="rotate(1 199.0 668.6)"/><ellipse cx="210.4" cy="669.8" rx="4.9" ry="4.9" transform="rotate(-29 210.4 669.8)"/><ellipse cx="223.4" cy="669.9" rx="4.6" ry="5.0" transform="rotate(23 223.4 669.9)"/><ellipse cx="232.9" cy="670.7" rx="4.8" ry="4.7" transform="rotate(12 232.9 670.7)"/><ellipse cx="116.0" cy="680.6" rx="4.6" ry="4.4" transform="rotate(-5 116.0 680.6)"/><ellipse cx="128.2" cy="679.5" rx="4.5" ry="5.3" transform="rotate(-28 128.2 679.5)"/><ellipse cx="138.8" cy="679.5" rx="4.6" ry="5.0" transform="rotate(18 138.8 679.5)"/><ellipse cx="148.9" cy="681.3" rx="5.1" ry="5.1" transform="rotate(-11 148.9 681.3)"/><ellipse cx="160.1" cy="680.8" rx="5.2" ry="4.7" transform="rotate(-12 160.1 680.8)"/><ellipse cx="171.2" cy="679.5" rx="5.3" ry="5.1" transform="rotate(-5 171.2 679.5)"/><ellipse cx="182.4" cy="679.9" rx="5.0" ry="5.7" transform="rotate(-17 182.4 679.9)"/><ellipse cx="193.3" cy="679.1" rx="5.4" ry="4.6" transform="rotate(-6 193.3 679.1)"/><ellipse cx="206.2" cy="681.4" rx="5.3" ry="5.6" transform="rotate(26 206.2 681.4)"/><ellipse cx="217.8" cy="680.8" rx="4.6" ry="4.7" transform="rotate(-28 217.8 680.8)"/><ellipse cx="227.7" cy="679.8" rx="5.0" ry="4.9" transform="rotate(-20 227.7 679.8)"/><ellipse cx="238.8" cy="681.3" rx="4.2" ry="4.8" transform="rotate(-23 238.8 681.3)"/><ellipse cx="121.2" cy="691.6" rx="5.4" ry="4.7" transform="rotate(19 121.2 691.6)"/><ellipse cx="132.6" cy="690.5" rx="4.7" ry="4.5" transform="rotate(25 132.6 690.5)"/><ellipse cx="144.9" cy="689.7" rx="4.4" ry="4.9" transform="rotate(-5 144.9 689.7)"/><ellipse cx="154.0" cy="689.7" rx="5.2" ry="5.5" transform="rotate(-26 154.0 689.7)"/><ellipse cx="166.9" cy="691.8" rx="5.3" ry="4.8" transform="rotate(-10 166.9 691.8)"/><ellipse cx="177.8" cy="690.2" rx="4.5" ry="5.7" transform="rotate(13 177.8 690.2)"/><ellipse cx="187.5" cy="691.4" rx="4.6" ry="4.8" transform="rotate(25 187.5 691.4)"/><ellipse cx="198.8" cy="690.2" rx="5.0" ry="5.7" transform="rotate(-1 198.8 690.2)"/><ellipse cx="210.8" cy="690.2" rx="5.3" ry="5.7" transform="rotate(-4 210.8 690.2)"/><ellipse cx="221.5" cy="691.5" rx="4.8" ry="5.7" transform="rotate(14 221.5 691.5)"/><ellipse cx="233.8" cy="690.4" rx="5.2" ry="5.5" transform="rotate(-11 233.8 690.4)"/><ellipse cx="115.0" cy="700.7" rx="4.6" ry="5.5" transform="rotate(15 115.0 700.7)"/><ellipse cx="126.1" cy="701.5" rx="4.5" ry="4.5" transform="rotate(-10 126.1 701.5)"/><ellipse cx="139.6" cy="700.8" rx="5.4" ry="5.6" transform="rotate(-25 139.6 700.8)"/><ellipse cx="150.1" cy="701.3" rx="4.3" ry="5.1" transform="rotate(-16 150.1 701.3)"/><ellipse cx="161.2" cy="702.0" rx="4.7" ry="5.3" transform="rotate(21 161.2 702.0)"/><ellipse cx="172.8" cy="700.9" rx="5.0" ry="4.6" transform="rotate(4 172.8 700.9)"/><ellipse cx="182.5" cy="700.8" rx="4.6" ry="5.4" transform="rotate(-15 182.5 700.8)"/><ellipse cx="194.6" cy="701.0" rx="4.4" ry="5.6" transform="rotate(-6 194.6 701.0)"/><ellipse cx="205.0" cy="702.1" rx="5.4" ry="5.1" transform="rotate(9 205.0 702.1)"/><ellipse cx="216.7" cy="702.2" rx="5.4" ry="4.5" transform="rotate(20 216.7 702.2)"/><ellipse cx="227.5" cy="700.5" rx="5.3" ry="4.5" transform="rotate(-19 227.5 700.5)"/><ellipse cx="240.2" cy="701.1" rx="5.4" ry="5.2" transform="rotate(22 240.2 701.1)"/><ellipse cx="122.2" cy="713.1" rx="4.7" ry="4.8" transform="rotate(-24 122.2 713.1)"/><ellipse cx="132.0" cy="711.7" rx="4.9" ry="5.3" transform="rotate(-22 132.0 711.7)"/><ellipse cx="144.1" cy="712.4" rx="4.4" ry="4.8" transform="rotate(-18 144.1 712.4)"/><ellipse cx="155.5" cy="711.2" rx="4.2" ry="4.9" transform="rotate(-11 155.5 711.2)"/><ellipse cx="166.4" cy="711.0" rx="4.4" ry="5.5" transform="rotate(-24 166.4 711.0)"/><ellipse cx="177.8" cy="711.0" rx="4.7" ry="5.2" transform="rotate(-20 177.8 711.0)"/><ellipse cx="188.2" cy="711.5" rx="5.0" ry="5.0" transform="rotate(27 188.2 711.5)"/><ellipse cx="199.6" cy="711.8" rx="4.6" ry="5.2" transform="rotate(22 199.6 711.8)"/><ellipse cx="210.4" cy="712.5" rx="5.4" ry="4.9" transform="rotate(-18 210.4 712.5)"/><ellipse cx="222.1" cy="712.8" rx="4.2" ry="5.7" transform="rotate(-6 222.1 712.8)"/><ellipse cx="232.7" cy="710.8" rx="5.3" ry="5.0" transform="rotate(3 232.7 710.8)"/><ellipse cx="115.0" cy="722.9" rx="5.0" ry="5.7" transform="rotate(-8 115.0 722.9)"/><ellipse cx="126.7" cy="722.7" rx="4.8" ry="4.6" transform="rotate(26 126.7 722.7)"/><ellipse cx="139.1" cy="723.7" rx="4.3" ry="5.1" transform="rotate(-18 139.1 723.7)"/><ellipse cx="150.7" cy="722.6" rx="4.4" ry="5.7" transform="rotate(-27 150.7 722.6)"/><ellipse cx="161.8" cy="722.9" rx="5.3" ry="4.9" transform="rotate(19 161.8 722.9)"/><ellipse cx="171.3" cy="722.4" rx="4.4" ry="5.5" transform="rotate(21 171.3 722.4)"/><ellipse cx="182.5" cy="722.4" rx="5.2" ry="4.7" transform="rotate(1 182.5 722.4)"/><ellipse cx="193.8" cy="723.1" rx="4.7" ry="4.6" transform="rotate(24 193.8 723.1)"/><ellipse cx="206.2" cy="721.5" rx="4.2" ry="5.2" transform="rotate(20 206.2 721.5)"/><ellipse cx="216.9" cy="722.9" rx="4.3" ry="5.2" transform="rotate(-12 216.9 722.9)"/><ellipse cx="227.8" cy="723.0" rx="4.7" ry="5.2" transform="rotate(-3 227.8 723.0)"/><ellipse cx="239.5" cy="722.6" rx="4.7" ry="4.4" transform="rotate(-16 239.5 722.6)"/><ellipse cx="121.4" cy="732.4" rx="5.1" ry="5.5" transform="rotate(-2 121.4 732.4)"/><ellipse cx="132.5" cy="732.2" rx="4.3" ry="4.6" transform="rotate(-3 132.5 732.2)"/><ellipse cx="144.2" cy="732.2" rx="4.8" ry="4.5" transform="rotate(14 144.2 732.2)"/><ellipse cx="154.0" cy="733.2" rx="5.1" ry="5.1" transform="rotate(-7 154.0 733.2)"/><ellipse cx="167.2" cy="734.4" rx="5.3" ry="4.6" transform="rotate(14 167.2 734.4)"/><ellipse cx="178.7" cy="733.2" rx="5.2" ry="4.7" transform="rotate(27 178.7 733.2)"/><ellipse cx="189.4" cy="734.2" rx="5.3" ry="4.6" transform="rotate(-26 189.4 734.2)"/><ellipse cx="199.1" cy="734.2" rx="4.6" ry="5.5" transform="rotate(-14 199.1 734.2)"/><ellipse cx="211.1" cy="734.2" rx="5.2" ry="4.6" transform="rotate(-18 211.1 734.2)"/><ellipse cx="221.9" cy="732.1" rx="4.5" ry="5.1" transform="rotate(-19 221.9 732.1)"/><ellipse cx="233.9" cy="734.1" rx="4.4" ry="5.7" transform="rotate(-20 233.9 734.1)"/><ellipse cx="116.1" cy="744.1" rx="5.1" ry="4.6" transform="rotate(-8 116.1 744.1)"/><ellipse cx="127.4" cy="744.7" rx="5.2" ry="5.2" transform="rotate(-24 127.4 744.7)"/><ellipse cx="138.1" cy="744.5" rx="5.4" ry="5.3" transform="rotate(-14 138.1 744.5)"/><ellipse cx="149.3" cy="744.4" rx="5.4" ry="5.2" transform="rotate(-3 149.3 744.4)"/><ellipse cx="159.7" cy="744.6" rx="4.4" ry="5.4" transform="rotate(-15 159.7 744.6)"/><ellipse cx="172.2" cy="744.2" rx="5.0" ry="5.8" transform="rotate(-11 172.2 744.2)"/><ellipse cx="182.4" cy="744.1" rx="4.2" ry="4.4" transform="rotate(-4 182.4 744.1)"/><ellipse cx="193.5" cy="743.1" rx="4.8" ry="5.7" transform="rotate(9 193.5 743.1)"/><ellipse cx="205.3" cy="742.9" rx="4.2" ry="4.4" transform="rotate(-9 205.3 742.9)"/><ellipse cx="217.0" cy="743.1" rx="4.5" ry="5.2" transform="rotate(7 217.0 743.1)"/><ellipse cx="229.0" cy="743.2" rx="4.8" ry="4.6" transform="rotate(-21 229.0 743.2)"/><ellipse cx="240.1" cy="744.5" rx="4.3" ry="5.3" transform="rotate(-6 240.1 744.5)"/><ellipse cx="121.8" cy="754.5" rx="4.5" ry="4.4" transform="rotate(-9 121.8 754.5)"/><ellipse cx="133.7" cy="755.0" rx="5.0" ry="5.0" transform="rotate(-15 133.7 755.0)"/><ellipse cx="144.0" cy="754.2" rx="5.3" ry="4.5" transform="rotate(-16 144.0 754.2)"/><ellipse cx="153.9" cy="754.5" rx="4.3" ry="5.5" transform="rotate(26 153.9 754.5)"/><ellipse cx="166.6" cy="754.4" rx="4.4" ry="4.7" transform="rotate(8 166.6 754.4)"/><ellipse cx="177.0" cy="753.9" rx="5.2" ry="4.6" transform="rotate(-27 177.0 753.9)"/><ellipse cx="189.2" cy="753.2" rx="5.3" ry="5.5" transform="rotate(21 189.2 753.2)"/><ellipse cx="200.5" cy="754.3" rx="5.1" ry="5.1" transform="rotate(-16 200.5 754.3)"/><ellipse cx="210.0" cy="754.0" rx="4.3" ry="4.7" transform="rotate(15 210.0 754.0)"/><ellipse cx="222.8" cy="753.8" rx="5.0" ry="5.6" transform="rotate(3 222.8 753.8)"/><ellipse cx="233.6" cy="753.8" rx="4.7" ry="5.5" transform="rotate(9 233.6 753.8)"/><ellipse cx="116.9" cy="763.8" rx="5.4" ry="4.7" transform="rotate(-14 116.9 763.8)"/><ellipse cx="128.3" cy="765.6" rx="4.5" ry="5.4" transform="rotate(-10 128.3 765.6)"/><ellipse cx="137.8" cy="766.0" rx="5.3" ry="4.9" transform="rotate(8 137.8 766.0)"/><ellipse cx="150.7" cy="764.9" rx="5.0" ry="5.3" transform="rotate(20 150.7 764.9)"/><ellipse cx="160.6" cy="765.5" rx="5.0" ry="5.6" transform="rotate(4 160.6 765.5)"/><ellipse cx="172.3" cy="764.0" rx="4.6" ry="4.7" transform="rotate(25 172.3 764.0)"/><ellipse cx="182.3" cy="766.0" rx="4.4" ry="4.4" transform="rotate(-9 182.3 766.0)"/><ellipse cx="193.3" cy="765.5" rx="4.4" ry="4.4" transform="rotate(8 193.3 765.5)"/><ellipse cx="204.6" cy="765.2" rx="5.0" ry="5.4" transform="rotate(-8 204.6 765.2)"/><ellipse cx="217.7" cy="764.0" rx="5.2" ry="5.5" transform="rotate(22 217.7 764.0)"/><ellipse cx="227.1" cy="764.3" rx="5.3" ry="5.7" transform="rotate(-23 227.1 764.3)"/><ellipse cx="239.9" cy="765.3" rx="4.2" ry="5.6" transform="rotate(20 239.9 765.3)"/><ellipse cx="120.5" cy="774.6" rx="5.0" ry="4.8" transform="rotate(15 120.5 774.6)"/><ellipse cx="132.5" cy="774.5" rx="4.4" ry="4.8" transform="rotate(-15 132.5 774.5)"/><ellipse cx="143.6" cy="775.2" rx="4.5" ry="5.4" transform="rotate(28 143.6 775.2)"/><ellipse cx="155.4" cy="774.5" rx="4.8" ry="5.6" transform="rotate(-5 155.4 774.5)"/><ellipse cx="165.9" cy="776.1" rx="4.7" ry="5.5" transform="rotate(2 165.9 776.1)"/><ellipse cx="176.5" cy="776.4" rx="4.5" ry="5.6" transform="rotate(-20 176.5 776.4)"/><ellipse cx="189.3" cy="776.7" rx="4.2" ry="4.7" transform="rotate(-30 189.3 776.7)"/><ellipse cx="200.6" cy="774.8" rx="4.8" ry="5.1" transform="rotate(-0 200.6 774.8)"/><ellipse cx="210.5" cy="776.7" rx="4.6" ry="5.6" transform="rotate(-13 210.5 776.7)"/><ellipse cx="222.3" cy="774.7" rx="4.5" ry="5.4" transform="rotate(8 222.3 774.7)"/><ellipse cx="234.0" cy="776.3" rx="4.3" ry="5.5" transform="rotate(8 234.0 776.3)"/><ellipse cx="115.7" cy="787.1" rx="4.6" ry="5.0" transform="rotate(-25 115.7 787.1)"/><ellipse cx="126.5" cy="785.6" rx="5.3" ry="4.4" transform="rotate(24 126.5 785.6)"/><ellipse cx="139.3" cy="785.6" rx="4.8" ry="4.9" transform="rotate(-2 139.3 785.6)"/><ellipse cx="150.2" cy="786.6" rx="4.8" ry="5.5" transform="rotate(-9 150.2 786.6)"/><ellipse cx="161.6" cy="786.6" rx="4.6" ry="4.6" transform="rotate(15 161.6 786.6)"/><ellipse cx="172.7" cy="786.4" rx="4.4" ry="5.0" transform="rotate(-22 172.7 786.4)"/><ellipse cx="182.6" cy="785.5" rx="4.8" ry="5.6" transform="rotate(-12 182.6 785.5)"/><ellipse cx="193.6" cy="785.4" rx="5.0" ry="5.6" transform="rotate(-15 193.6 785.4)"/><ellipse cx="204.8" cy="785.8" rx="4.6" ry="5.1" transform="rotate(-19 204.8 785.8)"/><ellipse cx="215.8" cy="787.3" rx="5.4" ry="5.4" transform="rotate(-24 215.8 787.3)"/><ellipse cx="228.7" cy="786.8" rx="4.7" ry="5.8" transform="rotate(-4 228.7 786.8)"/><ellipse cx="238.3" cy="785.5" rx="4.4" ry="5.3" transform="rotate(-7 238.3 785.5)"/><ellipse cx="122.2" cy="797.3" rx="4.2" ry="5.0" transform="rotate(0 122.2 797.3)"/><ellipse cx="131.8" cy="797.0" rx="5.0" ry="5.0" transform="rotate(-6 131.8 797.0)"/><ellipse cx="143.7" cy="797.0" rx="5.1" ry="5.7" transform="rotate(15 143.7 797.0)"/><ellipse cx="155.6" cy="797.7" rx="4.7" ry="4.7" transform="rotate(16 155.6 797.7)"/><ellipse cx="166.7" cy="797.1" rx="5.0" ry="5.6" transform="rotate(-3 166.7 797.1)"/><ellipse cx="176.5" cy="796.6" rx="4.6" ry="5.3" transform="rotate(17 176.5 796.6)"/><ellipse cx="188.1" cy="796.6" rx="5.1" ry="5.3" transform="rotate(-3 188.1 796.6)"/><ellipse cx="200.3" cy="797.8" rx="4.9" ry="5.0" transform="rotate(-19 200.3 797.8)"/><ellipse cx="210.8" cy="796.8" rx="5.0" ry="5.5" transform="rotate(28 210.8 796.8)"/><ellipse cx="221.5" cy="797.5" rx="4.2" ry="5.2" transform="rotate(26 221.5 797.5)"/><ellipse cx="233.7" cy="796.9" rx="4.8" ry="4.5" transform="rotate(13 233.7 796.9)"/><ellipse cx="116.8" cy="807.5" rx="4.8" ry="5.3" transform="rotate(-5 116.8 807.5)"/><ellipse cx="127.6" cy="807.1" rx="5.3" ry="4.7" transform="rotate(16 127.6 807.1)"/><ellipse cx="138.1" cy="806.3" rx="4.3" ry="5.8" transform="rotate(-14 138.1 806.3)"/><ellipse cx="149.4" cy="807.2" rx="4.7" ry="4.4" transform="rotate(12 149.4 807.2)"/><ellipse cx="160.1" cy="808.0" rx="4.6" ry="4.8" transform="rotate(26 160.1 808.0)"/><ellipse cx="172.7" cy="807.1" rx="4.8" ry="4.7" transform="rotate(-17 172.7 807.1)"/><ellipse cx="183.9" cy="807.7" rx="4.4" ry="5.5" transform="rotate(-2 183.9 807.7)"/><ellipse cx="195.5" cy="807.0" rx="4.9" ry="4.7" transform="rotate(8 195.5 807.0)"/><ellipse cx="205.5" cy="806.9" rx="5.2" ry="5.5" transform="rotate(3 205.5 806.9)"/><ellipse cx="216.5" cy="808.2" rx="4.4" ry="5.6" transform="rotate(-14 216.5 808.2)"/><ellipse cx="227.8" cy="806.6" rx="4.7" ry="4.8" transform="rotate(-30 227.8 806.6)"/><ellipse cx="238.6" cy="806.9" rx="5.1" ry="4.8" transform="rotate(-1 238.6 806.9)"/><ellipse cx="121.9" cy="817.7" rx="4.7" ry="5.3" transform="rotate(26 121.9 817.7)"/><ellipse cx="133.5" cy="819.0" rx="5.2" ry="4.5" transform="rotate(17 133.5 819.0)"/><ellipse cx="144.2" cy="816.8" rx="4.4" ry="5.6" transform="rotate(-29 144.2 816.8)"/><ellipse cx="154.5" cy="817.0" rx="5.3" ry="5.3" transform="rotate(-21 154.5 817.0)"/><ellipse cx="165.9" cy="817.2" rx="4.5" ry="5.5" transform="rotate(24 165.9 817.2)"/><ellipse cx="178.4" cy="818.3" rx="5.2" ry="4.6" transform="rotate(17 178.4 818.3)"/><ellipse cx="189.4" cy="818.8" rx="5.0" ry="5.7" transform="rotate(-18 189.4 818.8)"/><ellipse cx="200.5" cy="817.9" rx="5.0" ry="5.1" transform="rotate(23 200.5 817.9)"/><ellipse cx="210.5" cy="817.1" rx="4.9" ry="4.8" transform="rotate(-0 210.5 817.1)"/><ellipse cx="221.4" cy="818.0" rx="4.3" ry="5.1" transform="rotate(-0 221.4 818.0)"/><ellipse cx="232.3" cy="818.8" rx="4.8" ry="5.6" transform="rotate(-2 232.3 818.8)"/><ellipse cx="116.8" cy="828.3" rx="4.9" ry="5.3" transform="rotate(-5 116.8 828.3)"/><ellipse cx="127.5" cy="828.9" rx="5.4" ry="4.5" transform="rotate(-28 127.5 828.9)"/><ellipse cx="139.4" cy="828.2" rx="4.9" ry="5.4" transform="rotate(29 139.4 828.2)"/><ellipse cx="150.6" cy="827.5" rx="4.8" ry="5.1" transform="rotate(13 150.6 827.5)"/><ellipse cx="161.7" cy="828.3" rx="5.0" ry="4.9" transform="rotate(-2 161.7 828.3)"/><ellipse cx="171.3" cy="828.4" rx="4.8" ry="5.5" transform="rotate(-5 171.3 828.4)"/><ellipse cx="182.7" cy="829.4" rx="4.9" ry="5.6" transform="rotate(-6 182.7 829.4)"/><ellipse cx="194.4" cy="829.7" rx="4.8" ry="4.8" transform="rotate(9 194.4 829.7)"/><ellipse cx="205.2" cy="828.1" rx="5.2" ry="4.9" transform="rotate(5 205.2 828.1)"/><ellipse cx="215.7" cy="829.1" rx="5.0" ry="5.5" transform="rotate(23 215.7 829.1)"/><ellipse cx="227.5" cy="827.4" rx="4.9" ry="4.5" transform="rotate(-19 227.5 827.4)"/><ellipse cx="239.6" cy="829.3" rx="5.3" ry="5.3" transform="rotate(25 239.6 829.3)"/></g>
<clipPath id="musc"><path d="M83,552 L85,566 L87,586 L88,601 L90,616 L94.5,631 L96.5,646 L97,661 L98,677 L100.3,691 L99,706 L98,721 L99,736 L97,750 L94,765 L92.2,782 L93.5,796 L95.6,808 L96.7,826 L127,826 L127.5,780 L129,760 L135.5,740 L140,720 L141,700 L140.5,660 L137,640 L132,600 L127.5,575 L122.7,552 Z"/></clipPath>
<path d="M83,552 L85,566 L87,586 L88,601 L90,616 L94.5,631 L96.5,646 L97,661 L98,677 L100.3,691 L99,706 L98,721 L99,736 L97,750 L94,765 L92.2,782 L93.5,796 L95.6,808 L96.7,826 L127,826 L127.5,780 L129,760 L135.5,740 L140,720 L141,700 L140.5,660 L137,640 L132,600 L127.5,575 L122.7,552 Z" fill="#fbbaa9"/>
<g clip-path="url(#musc)" fill="#f6918a"><ellipse cx="117.3" cy="565.7" rx="5.5" ry="12.600000000000001"/><ellipse cx="107" cy="571.5" rx="5.2" ry="10.8"/><ellipse cx="122.1" cy="590" rx="6.6000000000000005" ry="12.3"/><ellipse cx="113.5" cy="598.3" rx="5.7" ry="11.0"/><ellipse cx="125.8" cy="612.5" rx="6.0" ry="13.3"/><ellipse cx="114.8" cy="626" rx="7.0" ry="13.8"/><ellipse cx="131" cy="633.5" rx="4.2" ry="10.8"/><ellipse cx="107.5" cy="630" rx="3.2" ry="13.3"/><ellipse cx="120.9" cy="655.4" rx="5.5" ry="13.3"/><ellipse cx="133.6" cy="661.2" rx="5.2" ry="12.100000000000001"/><ellipse cx="120.4" cy="683.7" rx="4.4" ry="14.5"/><ellipse cx="131" cy="689" rx="3.8000000000000003" ry="13.8"/><ellipse cx="139" cy="690.7" rx="2.9000000000000004" ry="13.3"/><ellipse cx="121" cy="716" rx="3.8000000000000003" ry="13.8"/><ellipse cx="129.5" cy="717.8" rx="3.5" ry="12.100000000000001"/><ellipse cx="137.2" cy="722" rx="2.9000000000000004" ry="12.700000000000001"/><ellipse cx="116.3" cy="755" rx="3.0" ry="10.3"/><ellipse cx="123.8" cy="748.5" rx="4.0" ry="13.8"/><ellipse cx="122" cy="781.5" rx="4.2" ry="16.8"/><ellipse cx="114.7" cy="812" rx="3.6" ry="13.3"/><ellipse cx="122.8" cy="810.2" rx="4.4" ry="12.5"/><ellipse cx="114" cy="738" rx="3.2" ry="9.3"/><ellipse cx="128" cy="553" rx="4.2" ry="6.3"/><ellipse cx="112" cy="693" rx="2.7" ry="12.3"/><ellipse cx="131.5" cy="742" rx="3.2" ry="8.3"/></g>
<path d="M83.0,552 L85.0,566 L87.0,586 L88.0,601 L90.0,616 L94.5,631 L96.5,646 L97.0,661 L98.0,677 L100.3,691 L99.0,706 L98.0,721 L99.0,736 L97.0,750 L94.0,765 L92.2,782 L93.5,796 L95.6,808 L96.7,826 L107.2,826.0 L107.1,825.0 L107.0,822.0 L106.8,819.0 L106.6,816.0 L106.4,813.0 L106.2,810.0 L105.9,807.0 L105.4,804.0 L106.7,801.0 L108.2,798.0 L109.3,795.0 L110.2,792.0 L110.8,789.0 L111.2,786.0 L111.2,783.0 L111.4,780.0 L111.5,777.0 L111.3,774.0 L110.8,771.0 L110.0,768.0 L108.9,765.0 L107.7,762.0 L105.7,759.0 L106.3,756.0 L106.9,753.0 L107.5,750.0 L107.9,747.0 L108.4,744.0 L110.8,741.0 L112.6,738.0 L113.8,735.0 L114.4,732.0 L114.8,729.0 L115.0,726.0 L115.0,723.0 L114.9,720.0 L114.8,717.0 L114.6,714.0 L114.1,711.0 L113.4,708.0 L112.6,705.0 L111.4,702.0 L110.1,699.0 L110.4,696.0 L110.6,693.0 L110.6,690.0 L110.1,687.0 L109.7,684.0 L110.5,681.0 L111.1,678.0 L111.6,675.0 L112.1,672.0 L112.4,669.0 L112.6,666.0 L112.6,663.0 L112.5,660.0 L112.3,657.0 L111.9,654.0 L111.4,651.0 L110.7,648.0 L109.7,645.0 L108.4,642.0 L106.7,639.0 L105.7,636.0 L105.3,633.0 L104.7,630.0 L103.8,627.0 L102.9,624.0 L103.2,621.0 L104.3,618.0 L105.0,615.0 L105.7,612.0 L106.1,609.0 L106.3,606.0 L106.2,603.0 L105.9,600.0 L105.5,597.0 L104.8,594.0 L103.9,591.0 L102.7,588.0 L101.1,585.0 L99.1,582.0 L96.8,579.0 L96.5,576.0 L96.2,573.0 L97.2,570.0 L98.1,567.0 L98.5,564.0 L98.7,561.0 L98.5,558.0 L98.1,555.0 L97.5,552.0 Z" fill="#f36b6b"/>
<path d="M83,552 L85,566 L87,586 L88,601 L90,616 L94.5,631 L96.5,646 L97,661 L98,677 L100.3,691 L99,706 L98,721 L99,736 L97,750 L94,765 L92.2,782 L93.5,796 L95.6,808 L96.7,826" fill="none" stroke="#f68a86" stroke-width="2.2"/>
<ellipse cx="91" cy="556" rx="4.5" ry="9" fill="#f4dcc0"/>
<ellipse cx="97.6" cy="601" rx="5.6" ry="14" fill="#f4dcc0"/>
<ellipse cx="104.7" cy="660.7" rx="5" ry="15.4" fill="#f4dcc0"/>
<ellipse cx="106.5" cy="722" rx="5.6" ry="14.8" fill="#f4dcc0"/>
<ellipse cx="103.5" cy="781" rx="5" ry="14.5" fill="#f4dcc0"/>
<path d="M163.0,605.0 C165.3,604.7 168.8,608.8 172.0,612.0 C175.2,615.2 179.3,619.7 182.0,624.0 C184.7,628.3 185.0,634.7 188.0,638.0 C191.0,641.3 195.8,641.8 200.0,644.0 C204.2,646.2 209.7,647.7 213.0,651.0 C216.3,654.3 218.0,659.5 220.0,664.0 C222.0,668.5 223.2,673.7 225.0,678.0 C226.8,682.3 229.5,686.3 231.0,690.0 C232.5,693.7 234.3,695.8 234.0,700.0 C233.7,704.2 231.0,709.8 229.0,715.0 C227.0,720.2 224.8,725.5 222.0,731.0 C219.2,736.5 216.0,743.7 212.0,748.0 C208.0,752.3 203.3,755.2 198.0,757.0 C192.7,758.8 185.8,759.8 180.0,759.0 C174.2,758.2 167.6,754.0 163.0,752.0 C158.4,750.0 154.3,753.2 152.4,747.0 C150.5,740.8 151.7,726.2 151.6,715.0 C151.5,703.8 151.5,690.0 151.6,680.0 C151.7,670.0 151.7,661.2 152.0,655.0 C152.3,648.8 152.6,647.2 153.2,643.0 C153.8,638.8 154.8,634.8 155.6,630.0 C156.4,625.2 156.8,618.2 158.0,614.0 C159.2,609.8 160.7,605.3 163.0,605.0 Z" fill="#fcc1a2"/>
<path d="M163.0,608.0 C165.2,607.5 169.2,612.2 172.0,615.0 C174.8,617.8 177.8,621.8 180.0,625.0 C182.2,628.2 184.5,631.3 185.0,634.0 C185.5,636.7 185.5,639.7 183.0,641.0 C180.5,642.3 173.9,642.0 170.0,642.0 C166.1,642.0 161.6,643.0 159.6,641.0 C157.6,639.0 158.1,633.8 158.0,630.0 C157.9,626.2 158.0,621.7 158.8,618.0 C159.6,614.3 160.8,608.5 163.0,608.0 Z" fill="#f6918a"/>
<path d="M156.4,646.0 C159.2,643.2 165.2,643.5 170.0,643.0 C174.8,642.5 180.7,642.5 185.0,643.0 C189.3,643.5 194.0,644.0 196.0,646.0 C198.0,648.0 197.7,652.3 197.0,655.0 C196.3,657.7 194.3,660.0 192.0,662.0 C189.7,664.0 186.3,665.0 183.0,667.0 C179.7,669.0 175.8,672.2 172.0,674.0 C168.2,675.8 163.4,678.2 160.4,678.0 C157.4,677.8 155.2,676.0 154.0,673.0 C152.8,670.0 152.8,664.5 153.2,660.0 C153.6,655.5 153.6,648.8 156.4,646.0 Z" fill="#f6918a"/>
<path d="M199.0,650.0 C200.2,648.3 203.7,648.8 206.0,650.0 C208.3,651.2 211.0,654.3 213.0,657.0 C215.0,659.7 216.7,662.7 218.0,666.0 C219.3,669.3 221.0,674.3 221.0,677.0 C221.0,679.7 219.7,681.8 218.0,682.0 C216.3,682.2 213.5,680.0 211.0,678.0 C208.5,676.0 205.0,673.0 203.0,670.0 C201.0,667.0 199.7,663.3 199.0,660.0 C198.3,656.7 197.8,651.7 199.0,650.0 Z" fill="#f6918a"/>
<path d="M180.0,670.0 C182.3,668.5 186.7,667.7 190.0,668.0 C193.3,668.3 196.7,670.3 200.0,672.0 C203.3,673.7 206.7,675.7 210.0,678.0 C213.3,680.3 216.8,683.3 220.0,686.0 C223.2,688.7 229.8,692.4 229.0,694.0 C228.2,695.6 219.8,695.3 215.0,695.5 C210.2,695.7 205.0,695.6 200.0,695.0 C195.0,694.4 188.8,693.7 185.0,692.0 C181.2,690.3 178.5,687.5 177.0,685.0 C175.5,682.5 175.5,679.5 176.0,677.0 C176.5,674.5 177.7,671.5 180.0,670.0 Z" fill="#f6918a"/>
<path d="M155.6,683.0 C157.6,680.8 161.3,680.2 165.0,681.0 C168.7,681.8 174.2,685.7 178.0,688.0 C181.8,690.3 186.0,692.5 188.0,695.0 C190.0,697.5 191.3,701.2 190.0,703.0 C188.7,704.8 184.2,705.3 180.0,706.0 C175.8,706.7 169.2,707.2 165.0,707.0 C160.8,706.8 156.8,707.2 154.8,705.0 C152.8,702.8 153.1,697.7 153.2,694.0 C153.3,690.3 153.6,685.2 155.6,683.0 Z" fill="#f6918a"/>
<path d="M168.0,709.0 C170.8,707.4 175.5,707.3 180.0,706.5 C184.5,705.7 190.0,704.8 195.0,704.0 C200.0,703.2 204.5,702.3 210.0,701.5 C215.5,700.7 226.7,697.6 228.0,699.0 C229.3,700.4 221.8,706.5 218.0,710.0 C214.2,713.5 209.7,717.2 205.0,720.0 C200.3,722.8 195.0,725.3 190.0,727.0 C185.0,728.7 179.2,730.2 175.0,730.0 C170.8,729.8 167.0,728.3 165.0,726.0 C163.0,723.7 162.5,718.8 163.0,716.0 C163.5,713.2 165.2,710.6 168.0,709.0 Z" fill="#f6918a"/>
<path d="M154.8,712.0 C155.9,709.2 158.7,711.3 160.4,713.0 C162.1,714.7 164.1,718.3 165.0,722.0 C165.9,725.7 166.3,731.3 166.0,735.0 C165.7,738.7 164.5,742.8 163.0,744.0 C161.5,745.2 158.7,744.3 157.2,742.0 C155.7,739.7 154.4,735.0 154.0,730.0 C153.6,725.0 153.7,714.8 154.8,712.0 Z" fill="#f6918a"/>
<path d="M180.0,733.0 C183.2,730.3 190.0,731.0 195.0,730.0 C200.0,729.0 205.7,728.3 210.0,727.0 C214.3,725.7 219.8,720.5 221.0,722.0 C222.2,723.5 219.2,731.8 217.0,736.0 C214.8,740.2 211.7,744.2 208.0,747.0 C204.3,749.8 199.3,751.8 195.0,753.0 C190.7,754.2 185.2,755.2 182.0,754.0 C178.8,752.8 176.3,749.5 176.0,746.0 C175.7,742.5 176.8,735.7 180.0,733.0 Z" fill="#f6918a"/>
<path d="M200,642 Q218.0,669.0 236,696" stroke="#f3a08e" stroke-width="0.7" fill="none"/>
<path d="M223,668 Q229.5,682.0 236,696" stroke="#f3a08e" stroke-width="0.7" fill="none"/>
<path d="M212,690 Q224.0,693.0 236,696" stroke="#f3a08e" stroke-width="0.7" fill="none"/>
<path d="M205,699 Q220.5,697.5 236,696" stroke="#f3a08e" stroke-width="0.7" fill="none"/>
<path d="M215,712 Q225.5,704.0 236,696" stroke="#f3a08e" stroke-width="0.7" fill="none"/>
<path d="M198,736 Q217.0,716.0 236,696" stroke="#f3a08e" stroke-width="0.7" fill="none"/>
<path d="M188,651 Q212.0,673.5 236,696" stroke="#f3a08e" stroke-width="0.7" fill="none"/>
</g>
<path d="M239,688 C243.5,689 248.5,691 251.5,695 C253.5,698.5 252,703 247.5,704.5 C244,705.8 241,706.2 239,706.5 Z" fill="#f7a877"/>
<clipPath id="rc"><path d="M309.6,562.0 C314.7,563.2 328.3,565.8 340.0,569.0 C351.7,572.2 366.7,578.3 380.0,581.0 C393.3,583.7 409.0,586.3 420.0,585.0 C431.0,583.7 439.3,577.3 446.0,573.0 C452.7,568.7 456.8,562.5 460.0,559.0 C463.2,555.5 464.2,553.2 465.0,552.0 L518.5,552 L518.5,826 L385,826 C384.5,820.0 383.5,801.0 382.0,790.0 C380.5,779.0 377.5,770.5 376.0,760.0 C374.5,749.5 374.7,738.2 373.0,727.0 C371.3,715.8 369.0,701.3 366.0,693.0 C363.0,684.7 360.0,682.5 355.0,677.0 C350.0,671.5 343.5,664.5 336.0,660.0 C328.5,655.5 314.3,651.7 310.0,650.0 Z"/></clipPath>
<path d="M309.6,562.0 C314.7,563.2 328.3,565.8 340.0,569.0 C351.7,572.2 366.7,578.3 380.0,581.0 C393.3,583.7 409.0,586.3 420.0,585.0 C431.0,583.7 439.3,577.3 446.0,573.0 C452.7,568.7 456.8,562.5 460.0,559.0 C463.2,555.5 464.2,553.2 465.0,552.0 L518.5,552 L518.5,826 L385,826 C384.5,820.0 383.5,801.0 382.0,790.0 C380.5,779.0 377.5,770.5 376.0,760.0 C374.5,749.5 374.7,738.2 373.0,727.0 C371.3,715.8 369.0,701.3 366.0,693.0 C363.0,684.7 360.0,682.5 355.0,677.0 C350.0,671.5 343.5,664.5 336.0,660.0 C328.5,655.5 314.3,651.7 310.0,650.0 Z" fill="#fdc7a5"/>
<g clip-path="url(#rc)">
<path d="M309.6,562.0 C314.7,563.2 328.3,565.8 340.0,569.0 C351.7,572.2 366.7,578.3 380.0,581.0 C393.3,583.7 409.0,586.3 420.0,585.0 C431.0,583.7 439.3,577.3 446.0,573.0 C452.7,568.7 456.8,562.5 460.0,559.0 C463.2,555.5 464.2,553.2 465.0,552.0" fill="none" stroke="#f9b5a2" stroke-width="23"/>
<path d="M385.0,826.0 C384.5,820.0 383.5,801.0 382.0,790.0 C380.5,779.0 377.5,770.5 376.0,760.0 C374.5,749.5 374.7,738.2 373.0,727.0 C371.3,715.8 369.0,701.3 366.0,693.0 C363.0,684.7 360.0,682.5 355.0,677.0 C350.0,671.5 343.5,664.5 336.0,660.0 C328.5,655.5 314.3,651.7 310.0,650.0" fill="none" stroke="#f9b5a2" stroke-width="26"/>
<rect x="508" y="552" width="11" height="274" fill="#f9b5a2"/>
<path d="M385.2,630.3 C393.5,633.2 418.0,638.3 435.0,647.7 C452.0,657.1 478.3,680.2 487.0,686.7" fill="none" stroke="#e96a6e" stroke-width="1.3"/>
<path d="M387.3,641.2 C393.8,644.6 419.8,658.4 426.3,661.8" fill="none" stroke="#e96a6e" stroke-width="1.3"/>
<path d="M422.0,628.0 C428.5,631.7 449.1,638.8 461.0,650.0 C472.9,661.2 488.1,687.5 493.5,695.0" fill="none" stroke="#e96a6e" stroke-width="1.3"/>
<path d="M425.0,616.0 C430.3,619.5 451.4,633.3 456.7,636.8" fill="none" stroke="#e96a6e" stroke-width="1.3"/>
<path d="M443.7,616.3 C448.1,620.2 461.7,629.7 470.0,640.0 C478.3,650.3 489.6,671.7 493.5,678.0" fill="none" stroke="#e96a6e" stroke-width="1.3"/>
<path d="M393.0,668.0 C395.8,665.0 403.0,664.0 410.0,664.0 C417.0,664.0 427.0,665.0 435.0,668.0 C443.0,671.0 450.2,676.7 458.0,682.0 C465.8,687.3 474.7,693.3 482.0,700.0 C489.3,706.7 497.2,713.3 502.0,722.0 C506.8,730.7 510.0,741.5 511.0,752.0 C512.0,762.5 511.2,775.3 508.0,785.0 C504.8,794.7 499.7,803.8 492.0,810.0 C484.3,816.2 472.3,819.8 462.0,822.0 C451.7,824.2 439.8,823.3 430.0,823.0 C420.2,822.7 409.5,823.5 403.0,820.0 C396.5,816.5 394.3,808.7 391.0,802.0 C387.7,795.3 385.2,787.0 383.0,780.0 C380.8,773.0 378.7,766.7 378.0,760.0 C377.3,753.3 378.0,746.7 379.0,740.0 C380.0,733.3 382.2,726.7 384.0,720.0 C385.8,713.3 388.5,706.3 390.0,700.0 C391.5,693.7 392.5,687.3 393.0,682.0 C393.5,676.7 390.2,671.0 393.0,668.0 Z" fill="#fbd697" stroke="#fbbba3" stroke-width="6"/>
<clipPath id="frc"><path d="M393.0,668.0 C395.8,665.0 403.0,664.0 410.0,664.0 C417.0,664.0 427.0,665.0 435.0,668.0 C443.0,671.0 450.2,676.7 458.0,682.0 C465.8,687.3 474.7,693.3 482.0,700.0 C489.3,706.7 497.2,713.3 502.0,722.0 C506.8,730.7 510.0,741.5 511.0,752.0 C512.0,762.5 511.2,775.3 508.0,785.0 C504.8,794.7 499.7,803.8 492.0,810.0 C484.3,816.2 472.3,819.8 462.0,822.0 C451.7,824.2 439.8,823.3 430.0,823.0 C420.2,822.7 409.5,823.5 403.0,820.0 C396.5,816.5 394.3,808.7 391.0,802.0 C387.7,795.3 385.2,787.0 383.0,780.0 C380.8,773.0 378.7,766.7 378.0,760.0 C377.3,753.3 378.0,746.7 379.0,740.0 C380.0,733.3 382.2,726.7 384.0,720.0 C385.8,713.3 388.5,706.3 390.0,700.0 C391.5,693.7 392.5,687.3 393.0,682.0 C393.5,676.7 390.2,671.0 393.0,668.0 Z"/></clipPath>
<g clip-path="url(#frc)" fill="#fbee9e"><ellipse cx="376.3" cy="666.5" rx="4.7" ry="4.7" transform="rotate(8 376.3 666.5)"/><ellipse cx="387.4" cy="665.9" rx="4.8" ry="4.3" transform="rotate(21 387.4 665.9)"/><ellipse cx="396.9" cy="666.7" rx="4.1" ry="4.2" transform="rotate(33 396.9 666.7)"/><ellipse cx="409.8" cy="666.7" rx="4.8" ry="4.4" transform="rotate(5 409.8 666.7)"/><ellipse cx="419.8" cy="665.6" rx="4.3" ry="4.4" transform="rotate(-6 419.8 665.6)"/><ellipse cx="429.9" cy="666.2" rx="4.8" ry="5.1" transform="rotate(-37 429.9 666.2)"/><ellipse cx="442.2" cy="667.0" rx="4.1" ry="5.0" transform="rotate(-4 442.2 667.0)"/><ellipse cx="453.2" cy="667.1" rx="4.0" ry="4.5" transform="rotate(38 453.2 667.1)"/><ellipse cx="463.0" cy="666.3" rx="4.6" ry="4.5" transform="rotate(-23 463.0 666.3)"/><ellipse cx="473.8" cy="666.4" rx="4.2" ry="4.0" transform="rotate(-30 473.8 666.4)"/><ellipse cx="486.9" cy="665.1" rx="5.2" ry="4.1" transform="rotate(-39 486.9 665.1)"/><ellipse cx="497.6" cy="665.2" rx="4.9" ry="4.3" transform="rotate(-36 497.6 665.2)"/><ellipse cx="508.9" cy="666.6" rx="4.9" ry="4.9" transform="rotate(-33 508.9 666.6)"/><ellipse cx="381.4" cy="676.8" rx="4.8" ry="4.9" transform="rotate(-20 381.4 676.8)"/><ellipse cx="391.3" cy="674.6" rx="5.2" ry="4.9" transform="rotate(12 391.3 674.6)"/><ellipse cx="403.0" cy="676.4" rx="5.0" ry="4.1" transform="rotate(-27 403.0 676.4)"/><ellipse cx="413.4" cy="675.5" rx="5.0" ry="4.6" transform="rotate(6 413.4 675.5)"/><ellipse cx="424.6" cy="676.5" rx="4.5" ry="4.8" transform="rotate(-11 424.6 676.5)"/><ellipse cx="436.3" cy="675.5" rx="4.8" ry="4.8" transform="rotate(23 436.3 675.5)"/><ellipse cx="447.7" cy="675.3" rx="5.1" ry="4.9" transform="rotate(-35 447.7 675.3)"/><ellipse cx="459.3" cy="675.4" rx="5.2" ry="4.8" transform="rotate(8 459.3 675.4)"/><ellipse cx="469.7" cy="675.3" rx="5.2" ry="5.0" transform="rotate(-6 469.7 675.3)"/><ellipse cx="480.9" cy="676.0" rx="5.1" ry="4.5" transform="rotate(32 480.9 676.0)"/><ellipse cx="490.3" cy="675.2" rx="5.0" ry="4.3" transform="rotate(-6 490.3 675.2)"/><ellipse cx="503.4" cy="674.7" rx="4.7" ry="5.0" transform="rotate(27 503.4 674.7)"/><ellipse cx="513.7" cy="675.3" rx="5.0" ry="5.0" transform="rotate(28 513.7 675.3)"/><ellipse cx="377.0" cy="685.2" rx="5.0" ry="4.8" transform="rotate(-33 377.0 685.2)"/><ellipse cx="386.3" cy="686.2" rx="4.7" ry="5.0" transform="rotate(35 386.3 686.2)"/><ellipse cx="398.4" cy="685.5" rx="4.3" ry="4.7" transform="rotate(-23 398.4 685.5)"/><ellipse cx="409.7" cy="685.5" rx="4.3" ry="4.9" transform="rotate(-33 409.7 685.5)"/><ellipse cx="419.4" cy="685.8" rx="5.0" ry="4.9" transform="rotate(32 419.4 685.8)"/><ellipse cx="430.9" cy="685.8" rx="5.1" ry="4.6" transform="rotate(-25 430.9 685.8)"/><ellipse cx="442.5" cy="685.3" rx="4.2" ry="4.2" transform="rotate(5 442.5 685.3)"/><ellipse cx="452.2" cy="684.5" rx="4.5" ry="4.6" transform="rotate(40 452.2 684.5)"/><ellipse cx="464.3" cy="686.3" rx="4.4" ry="4.1" transform="rotate(-28 464.3 686.3)"/><ellipse cx="475.0" cy="684.4" rx="4.7" ry="4.4" transform="rotate(-37 475.0 684.4)"/><ellipse cx="486.0" cy="685.8" rx="5.2" ry="5.0" transform="rotate(-19 486.0 685.8)"/><ellipse cx="498.1" cy="686.2" rx="4.9" ry="4.5" transform="rotate(26 498.1 686.2)"/><ellipse cx="506.9" cy="684.9" rx="5.2" ry="4.3" transform="rotate(-26 506.9 684.9)"/><ellipse cx="381.6" cy="696.3" rx="4.1" ry="4.1" transform="rotate(-3 381.6 696.3)"/><ellipse cx="391.5" cy="695.6" rx="5.1" ry="5.1" transform="rotate(-8 391.5 695.6)"/><ellipse cx="402.9" cy="695.6" rx="4.1" ry="5.2" transform="rotate(11 402.9 695.6)"/><ellipse cx="414.2" cy="695.3" rx="5.1" ry="4.8" transform="rotate(-27 414.2 695.3)"/><ellipse cx="424.8" cy="694.3" rx="5.2" ry="5.2" transform="rotate(-20 424.8 694.3)"/><ellipse cx="437.5" cy="696.2" rx="4.4" ry="5.1" transform="rotate(-36 437.5 696.2)"/><ellipse cx="447.9" cy="696.6" rx="4.9" ry="4.9" transform="rotate(-36 447.9 696.6)"/><ellipse cx="459.6" cy="695.8" rx="4.2" ry="4.9" transform="rotate(-16 459.6 695.8)"/><ellipse cx="468.6" cy="695.0" rx="4.7" ry="4.9" transform="rotate(-19 468.6 695.0)"/><ellipse cx="479.7" cy="694.8" rx="4.1" ry="4.6" transform="rotate(-29 479.7 694.8)"/><ellipse cx="492.0" cy="694.7" rx="4.8" ry="4.0" transform="rotate(-37 492.0 694.7)"/><ellipse cx="503.5" cy="696.3" rx="5.1" ry="4.3" transform="rotate(31 503.5 696.3)"/><ellipse cx="512.5" cy="696.4" rx="4.2" ry="4.5" transform="rotate(27 512.5 696.4)"/><ellipse cx="375.6" cy="706.0" rx="4.8" ry="4.5" transform="rotate(-2 375.6 706.0)"/><ellipse cx="386.3" cy="704.1" rx="4.8" ry="4.2" transform="rotate(17 386.3 704.1)"/><ellipse cx="398.9" cy="704.6" rx="4.7" ry="4.2" transform="rotate(-7 398.9 704.6)"/><ellipse cx="409.8" cy="704.8" rx="4.2" ry="4.3" transform="rotate(-27 409.8 704.8)"/><ellipse cx="421.0" cy="704.3" rx="4.6" ry="4.4" transform="rotate(38 421.0 704.3)"/><ellipse cx="431.4" cy="704.5" rx="4.1" ry="5.1" transform="rotate(-2 431.4 704.5)"/><ellipse cx="441.3" cy="704.9" rx="4.3" ry="4.3" transform="rotate(39 441.3 704.9)"/><ellipse cx="452.0" cy="704.7" rx="5.2" ry="5.1" transform="rotate(32 452.0 704.7)"/><ellipse cx="463.5" cy="706.3" rx="4.1" ry="4.9" transform="rotate(-39 463.5 706.3)"/><ellipse cx="474.1" cy="704.0" rx="5.0" ry="4.4" transform="rotate(27 474.1 704.0)"/><ellipse cx="485.8" cy="706.2" rx="4.6" ry="4.2" transform="rotate(-23 485.8 706.2)"/><ellipse cx="496.2" cy="705.8" rx="4.7" ry="4.2" transform="rotate(17 496.2 705.8)"/><ellipse cx="507.0" cy="705.5" rx="4.2" ry="4.1" transform="rotate(-0 507.0 705.5)"/><ellipse cx="381.8" cy="715.5" rx="4.3" ry="4.2" transform="rotate(25 381.8 715.5)"/><ellipse cx="391.5" cy="715.6" rx="4.7" ry="4.2" transform="rotate(-7 391.5 715.6)"/><ellipse cx="404.2" cy="714.6" rx="4.9" ry="4.1" transform="rotate(27 404.2 714.6)"/><ellipse cx="413.3" cy="716.0" rx="5.0" ry="4.6" transform="rotate(-2 413.3 716.0)"/><ellipse cx="424.7" cy="715.8" rx="5.0" ry="4.3" transform="rotate(-11 424.7 715.8)"/><ellipse cx="436.7" cy="713.8" rx="4.2" ry="4.4" transform="rotate(2 436.7 713.8)"/><ellipse cx="446.6" cy="715.5" rx="4.5" ry="4.6" transform="rotate(25 446.6 715.5)"/><ellipse cx="459.0" cy="714.7" rx="5.0" ry="4.4" transform="rotate(20 459.0 714.7)"/><ellipse cx="470.6" cy="715.0" rx="4.1" ry="5.0" transform="rotate(1 470.6 715.0)"/><ellipse cx="479.3" cy="716.1" rx="4.6" ry="4.6" transform="rotate(-22 479.3 716.1)"/><ellipse cx="490.9" cy="715.8" rx="4.2" ry="4.1" transform="rotate(-38 490.9 715.8)"/><ellipse cx="501.8" cy="713.8" rx="4.1" ry="4.8" transform="rotate(8 501.8 713.8)"/><ellipse cx="514.0" cy="714.0" rx="4.7" ry="4.6" transform="rotate(30 514.0 714.0)"/><ellipse cx="375.1" cy="724.8" rx="4.9" ry="4.1" transform="rotate(0 375.1 724.8)"/><ellipse cx="386.8" cy="723.9" rx="4.3" ry="4.1" transform="rotate(7 386.8 723.9)"/><ellipse cx="398.2" cy="725.4" rx="5.0" ry="4.2" transform="rotate(-27 398.2 725.4)"/><ellipse cx="408.7" cy="724.6" rx="5.0" ry="5.1" transform="rotate(27 408.7 724.6)"/><ellipse cx="421.1" cy="725.5" rx="4.6" ry="4.5" transform="rotate(-13 421.1 725.5)"/><ellipse cx="430.8" cy="726.0" rx="4.3" ry="4.4" transform="rotate(24 430.8 726.0)"/><ellipse cx="442.8" cy="723.7" rx="5.1" ry="5.0" transform="rotate(1 442.8 723.7)"/><ellipse cx="452.4" cy="724.6" rx="5.1" ry="5.1" transform="rotate(11 452.4 724.6)"/><ellipse cx="463.0" cy="724.6" rx="4.4" ry="4.6" transform="rotate(0 463.0 724.6)"/><ellipse cx="476.1" cy="725.5" rx="4.0" ry="4.2" transform="rotate(35 476.1 725.5)"/><ellipse cx="486.9" cy="725.7" rx="4.8" ry="5.0" transform="rotate(-37 486.9 725.7)"/><ellipse cx="497.4" cy="724.3" rx="4.8" ry="4.3" transform="rotate(3 497.4 724.3)"/><ellipse cx="507.4" cy="724.8" rx="5.1" ry="4.7" transform="rotate(-5 507.4 724.8)"/><ellipse cx="381.0" cy="735.0" rx="5.1" ry="4.3" transform="rotate(-30 381.0 735.0)"/><ellipse cx="392.5" cy="734.0" rx="4.7" ry="5.1" transform="rotate(-3 392.5 734.0)"/><ellipse cx="402.6" cy="733.7" rx="4.6" ry="4.2" transform="rotate(-17 402.6 733.7)"/><ellipse cx="413.9" cy="733.6" rx="4.5" ry="4.3" transform="rotate(4 413.9 733.6)"/><ellipse cx="425.7" cy="735.0" rx="5.0" ry="4.7" transform="rotate(-24 425.7 735.0)"/><ellipse cx="436.6" cy="734.9" rx="4.9" ry="4.6" transform="rotate(-2 436.6 734.9)"/><ellipse cx="446.8" cy="734.6" rx="4.4" ry="4.3" transform="rotate(-9 446.8 734.6)"/><ellipse cx="458.1" cy="735.5" rx="4.7" ry="4.0" transform="rotate(-21 458.1 735.5)"/><ellipse cx="469.0" cy="735.8" rx="4.7" ry="4.6" transform="rotate(-16 469.0 735.8)"/><ellipse cx="479.5" cy="735.5" rx="4.9" ry="4.2" transform="rotate(-5 479.5 735.5)"/><ellipse cx="491.4" cy="735.2" rx="4.1" ry="4.5" transform="rotate(-31 491.4 735.2)"/><ellipse cx="503.1" cy="733.8" rx="4.3" ry="5.2" transform="rotate(-13 503.1 733.8)"/><ellipse cx="513.8" cy="735.4" rx="4.4" ry="4.8" transform="rotate(26 513.8 735.4)"/><ellipse cx="376.6" cy="745.0" rx="4.6" ry="4.9" transform="rotate(-2 376.6 745.0)"/><ellipse cx="388.0" cy="743.5" rx="4.9" ry="4.9" transform="rotate(30 388.0 743.5)"/><ellipse cx="398.2" cy="744.4" rx="4.0" ry="4.9" transform="rotate(37 398.2 744.4)"/><ellipse cx="409.7" cy="745.3" rx="4.7" ry="4.5" transform="rotate(9 409.7 745.3)"/><ellipse cx="419.9" cy="744.9" rx="4.5" ry="4.5" transform="rotate(-17 419.9 744.9)"/><ellipse cx="430.7" cy="744.0" rx="4.5" ry="4.7" transform="rotate(23 430.7 744.0)"/><ellipse cx="441.9" cy="743.6" rx="5.0" ry="4.6" transform="rotate(-16 441.9 743.6)"/><ellipse cx="453.2" cy="743.4" rx="4.2" ry="4.7" transform="rotate(34 453.2 743.4)"/><ellipse cx="464.8" cy="745.5" rx="4.4" ry="5.0" transform="rotate(-24 464.8 745.5)"/><ellipse cx="473.8" cy="743.3" rx="4.5" ry="5.1" transform="rotate(5 473.8 743.3)"/><ellipse cx="486.7" cy="744.5" rx="4.6" ry="5.1" transform="rotate(40 486.7 744.5)"/><ellipse cx="497.4" cy="744.1" rx="4.6" ry="4.6" transform="rotate(-11 497.4 744.1)"/><ellipse cx="509.1" cy="744.8" rx="4.7" ry="4.4" transform="rotate(2 509.1 744.8)"/><ellipse cx="381.3" cy="754.3" rx="4.1" ry="4.4" transform="rotate(6 381.3 754.3)"/><ellipse cx="392.5" cy="754.1" rx="5.1" ry="5.2" transform="rotate(10 392.5 754.1)"/><ellipse cx="403.6" cy="755.0" rx="5.2" ry="4.4" transform="rotate(-26 403.6 755.0)"/><ellipse cx="415.3" cy="754.2" rx="4.4" ry="5.2" transform="rotate(-31 415.3 754.2)"/><ellipse cx="426.3" cy="755.4" rx="5.1" ry="4.8" transform="rotate(31 426.3 755.4)"/><ellipse cx="436.0" cy="754.2" rx="4.5" ry="4.2" transform="rotate(0 436.0 754.2)"/><ellipse cx="447.8" cy="754.4" rx="4.2" ry="4.2" transform="rotate(-12 447.8 754.4)"/><ellipse cx="457.4" cy="754.0" rx="5.2" ry="4.8" transform="rotate(23 457.4 754.0)"/><ellipse cx="468.3" cy="753.7" rx="4.4" ry="4.8" transform="rotate(27 468.3 753.7)"/><ellipse cx="479.8" cy="754.2" rx="4.7" ry="4.8" transform="rotate(4 479.8 754.2)"/><ellipse cx="491.6" cy="755.4" rx="4.3" ry="4.8" transform="rotate(6 491.6 755.4)"/><ellipse cx="501.7" cy="754.8" rx="4.5" ry="4.1" transform="rotate(-31 501.7 754.8)"/><ellipse cx="513.6" cy="755.0" rx="4.1" ry="4.2" transform="rotate(9 513.6 755.0)"/><ellipse cx="374.8" cy="764.6" rx="5.0" ry="4.1" transform="rotate(-14 374.8 764.6)"/><ellipse cx="386.2" cy="763.4" rx="4.9" ry="4.4" transform="rotate(-32 386.2 763.4)"/><ellipse cx="397.6" cy="763.9" rx="5.1" ry="4.7" transform="rotate(-9 397.6 763.9)"/><ellipse cx="409.2" cy="765.1" rx="4.1" ry="5.1" transform="rotate(-5 409.2 765.1)"/><ellipse cx="418.9" cy="765.0" rx="4.7" ry="4.3" transform="rotate(28 418.9 765.0)"/><ellipse cx="431.8" cy="763.5" rx="4.4" ry="5.1" transform="rotate(8 431.8 763.5)"/><ellipse cx="443.1" cy="763.4" rx="5.2" ry="4.6" transform="rotate(-9 443.1 763.4)"/><ellipse cx="452.5" cy="764.9" rx="4.9" ry="4.3" transform="rotate(-1 452.5 764.9)"/><ellipse cx="463.2" cy="763.7" rx="5.0" ry="4.3" transform="rotate(-25 463.2 763.7)"/><ellipse cx="475.1" cy="763.1" rx="5.2" ry="4.3" transform="rotate(3 475.1 763.1)"/><ellipse cx="485.0" cy="763.1" rx="4.5" ry="4.5" transform="rotate(26 485.0 763.1)"/><ellipse cx="496.3" cy="763.5" rx="4.4" ry="4.3" transform="rotate(-21 496.3 763.5)"/><ellipse cx="507.6" cy="763.2" rx="4.0" ry="4.8" transform="rotate(16 507.6 763.2)"/><ellipse cx="382.3" cy="772.9" rx="4.1" ry="4.3" transform="rotate(-5 382.3 772.9)"/><ellipse cx="391.7" cy="773.4" rx="5.0" ry="5.0" transform="rotate(18 391.7 773.4)"/><ellipse cx="402.8" cy="774.9" rx="4.5" ry="5.2" transform="rotate(0 402.8 774.9)"/><ellipse cx="413.6" cy="774.3" rx="4.3" ry="4.5" transform="rotate(-19 413.6 774.3)"/><ellipse cx="425.2" cy="773.2" rx="5.1" ry="4.7" transform="rotate(9 425.2 773.2)"/><ellipse cx="435.6" cy="773.8" rx="4.3" ry="5.0" transform="rotate(3 435.6 773.8)"/><ellipse cx="447.2" cy="774.2" rx="4.3" ry="4.9" transform="rotate(5 447.2 774.2)"/><ellipse cx="457.5" cy="773.0" rx="4.4" ry="4.5" transform="rotate(28 457.5 773.0)"/><ellipse cx="468.6" cy="773.9" rx="4.4" ry="4.8" transform="rotate(-11 468.6 773.9)"/><ellipse cx="479.5" cy="773.3" rx="4.6" ry="4.4" transform="rotate(-22 479.5 773.3)"/><ellipse cx="491.0" cy="773.6" rx="4.2" ry="4.9" transform="rotate(33 491.0 773.6)"/><ellipse cx="503.4" cy="772.9" rx="4.9" ry="5.1" transform="rotate(-18 503.4 772.9)"/><ellipse cx="513.9" cy="773.4" rx="4.0" ry="4.8" transform="rotate(-7 513.9 773.4)"/><ellipse cx="375.4" cy="784.4" rx="4.8" ry="4.8" transform="rotate(-12 375.4 784.4)"/><ellipse cx="386.1" cy="784.6" rx="4.8" ry="4.2" transform="rotate(19 386.1 784.6)"/><ellipse cx="396.9" cy="782.8" rx="4.9" ry="4.0" transform="rotate(-24 396.9 782.8)"/><ellipse cx="407.9" cy="783.1" rx="4.4" ry="4.5" transform="rotate(11 407.9 783.1)"/><ellipse cx="420.2" cy="784.1" rx="4.2" ry="5.0" transform="rotate(-20 420.2 784.1)"/><ellipse cx="430.6" cy="782.4" rx="4.5" ry="4.8" transform="rotate(27 430.6 782.4)"/><ellipse cx="440.9" cy="784.4" rx="4.9" ry="4.3" transform="rotate(9 440.9 784.4)"/><ellipse cx="452.1" cy="784.3" rx="4.1" ry="4.3" transform="rotate(-23 452.1 784.3)"/><ellipse cx="463.0" cy="784.1" rx="5.1" ry="4.9" transform="rotate(-9 463.0 784.1)"/><ellipse cx="474.5" cy="782.6" rx="4.9" ry="5.0" transform="rotate(36 474.5 782.6)"/><ellipse cx="486.5" cy="784.2" rx="4.5" ry="5.1" transform="rotate(26 486.5 784.2)"/><ellipse cx="495.9" cy="784.1" rx="4.8" ry="4.5" transform="rotate(-6 495.9 784.1)"/><ellipse cx="507.1" cy="784.2" rx="4.6" ry="5.1" transform="rotate(-37 507.1 784.2)"/><ellipse cx="380.9" cy="793.5" rx="4.8" ry="5.0" transform="rotate(38 380.9 793.5)"/><ellipse cx="391.9" cy="792.3" rx="4.8" ry="4.7" transform="rotate(-11 391.9 792.3)"/><ellipse cx="403.0" cy="792.5" rx="4.5" ry="4.2" transform="rotate(17 403.0 792.5)"/><ellipse cx="413.9" cy="793.4" rx="4.8" ry="4.3" transform="rotate(-4 413.9 793.4)"/><ellipse cx="425.0" cy="794.3" rx="5.1" ry="4.4" transform="rotate(-29 425.0 794.3)"/><ellipse cx="437.3" cy="793.5" rx="4.7" ry="4.4" transform="rotate(21 437.3 793.5)"/><ellipse cx="447.7" cy="793.3" rx="4.2" ry="4.8" transform="rotate(21 447.7 793.3)"/><ellipse cx="458.0" cy="793.1" rx="5.0" ry="4.1" transform="rotate(-23 458.0 793.1)"/><ellipse cx="468.8" cy="793.9" rx="4.1" ry="4.3" transform="rotate(-4 468.8 793.9)"/><ellipse cx="480.4" cy="793.1" rx="4.1" ry="4.4" transform="rotate(-27 480.4 793.1)"/><ellipse cx="492.7" cy="794.0" rx="4.1" ry="4.0" transform="rotate(-33 492.7 794.0)"/><ellipse cx="502.7" cy="792.5" rx="4.9" ry="5.2" transform="rotate(-1 502.7 792.5)"/><ellipse cx="513.6" cy="792.2" rx="4.5" ry="4.2" transform="rotate(34 513.6 792.2)"/><ellipse cx="377.0" cy="803.6" rx="4.8" ry="4.8" transform="rotate(-20 377.0 803.6)"/><ellipse cx="385.9" cy="803.9" rx="4.3" ry="4.2" transform="rotate(27 385.9 803.9)"/><ellipse cx="398.3" cy="804.0" rx="4.4" ry="4.2" transform="rotate(34 398.3 804.0)"/><ellipse cx="409.8" cy="803.8" rx="4.2" ry="4.9" transform="rotate(-14 409.8 803.8)"/><ellipse cx="419.6" cy="802.9" rx="4.2" ry="5.0" transform="rotate(4 419.6 802.9)"/><ellipse cx="430.4" cy="802.1" rx="4.4" ry="5.0" transform="rotate(5 430.4 802.1)"/><ellipse cx="442.5" cy="804.2" rx="4.8" ry="5.0" transform="rotate(36 442.5 804.2)"/><ellipse cx="452.2" cy="802.7" rx="4.6" ry="4.6" transform="rotate(6 452.2 802.7)"/><ellipse cx="463.2" cy="803.1" rx="4.1" ry="4.8" transform="rotate(38 463.2 803.1)"/><ellipse cx="474.9" cy="802.5" rx="4.1" ry="4.0" transform="rotate(18 474.9 802.5)"/><ellipse cx="486.9" cy="803.9" rx="4.0" ry="5.0" transform="rotate(-6 486.9 803.9)"/><ellipse cx="497.0" cy="803.0" rx="4.3" ry="4.8" transform="rotate(-13 497.0 803.0)"/><ellipse cx="508.8" cy="804.2" rx="4.5" ry="4.8" transform="rotate(-27 508.8 804.2)"/><ellipse cx="381.7" cy="812.6" rx="4.4" ry="4.5" transform="rotate(-24 381.7 812.6)"/><ellipse cx="392.4" cy="814.1" rx="4.1" ry="4.4" transform="rotate(33 392.4 814.1)"/><ellipse cx="404.6" cy="813.3" rx="5.0" ry="5.2" transform="rotate(25 404.6 813.3)"/><ellipse cx="414.8" cy="812.5" rx="4.1" ry="4.8" transform="rotate(6 414.8 812.5)"/><ellipse cx="425.9" cy="812.5" rx="5.1" ry="4.6" transform="rotate(-13 425.9 812.5)"/><ellipse cx="435.8" cy="813.4" rx="5.1" ry="4.0" transform="rotate(-4 435.8 813.4)"/><ellipse cx="447.2" cy="813.2" rx="4.1" ry="4.8" transform="rotate(-7 447.2 813.2)"/><ellipse cx="458.3" cy="812.1" rx="4.6" ry="4.7" transform="rotate(-26 458.3 812.1)"/><ellipse cx="468.6" cy="813.9" rx="5.1" ry="4.7" transform="rotate(-20 468.6 813.9)"/><ellipse cx="479.9" cy="813.0" rx="4.1" ry="4.6" transform="rotate(4 479.9 813.0)"/><ellipse cx="490.6" cy="813.0" rx="4.3" ry="4.7" transform="rotate(7 490.6 813.0)"/><ellipse cx="501.5" cy="812.9" rx="4.1" ry="4.5" transform="rotate(29 501.5 812.9)"/><ellipse cx="514.1" cy="812.1" rx="4.7" ry="4.9" transform="rotate(39 514.1 812.1)"/><ellipse cx="376.8" cy="822.5" rx="4.9" ry="4.1" transform="rotate(-26 376.8 822.5)"/><ellipse cx="387.7" cy="821.9" rx="5.2" ry="4.7" transform="rotate(22 387.7 821.9)"/><ellipse cx="397.7" cy="821.6" rx="4.1" ry="4.3" transform="rotate(8 397.7 821.6)"/><ellipse cx="409.5" cy="822.6" rx="4.3" ry="4.4" transform="rotate(31 409.5 822.6)"/><ellipse cx="420.2" cy="823.8" rx="4.7" ry="5.0" transform="rotate(30 420.2 823.8)"/><ellipse cx="430.6" cy="823.4" rx="4.2" ry="4.9" transform="rotate(14 430.6 823.4)"/><ellipse cx="441.7" cy="823.4" rx="5.0" ry="4.1" transform="rotate(36 441.7 823.4)"/><ellipse cx="453.2" cy="821.8" rx="4.9" ry="4.1" transform="rotate(4 453.2 821.8)"/><ellipse cx="465.0" cy="823.2" rx="5.0" ry="4.1" transform="rotate(-20 465.0 823.2)"/><ellipse cx="475.8" cy="823.0" rx="4.2" ry="4.5" transform="rotate(-31 475.8 823.0)"/><ellipse cx="486.7" cy="822.0" rx="4.0" ry="4.1" transform="rotate(4 486.7 822.0)"/><ellipse cx="496.7" cy="821.9" rx="4.3" ry="4.8" transform="rotate(30 496.7 821.9)"/><ellipse cx="508.7" cy="823.9" rx="4.6" ry="4.8" transform="rotate(-39 508.7 823.9)"/></g>
<path d="M434.5,744.5 C434.3,742.6 432.0,739.5 430.5,736.6 C429.0,733.8 427.2,730.4 425.5,727.4 C423.8,724.3 422.0,720.8 420.3,718.2 C418.5,715.7 416.9,713.5 415.1,712.0 C413.2,710.5 411.3,709.2 408.9,709.4 C406.6,709.6 402.9,711.0 400.9,712.9 C399.0,714.8 397.4,718.4 397.2,720.8 C396.9,723.1 398.1,725.0 399.5,727.0 C400.9,728.9 403.1,730.6 405.6,732.4 C408.1,734.2 411.5,736.1 414.5,737.9 C417.5,739.7 420.8,741.7 423.6,743.3 C426.4,744.9 429.5,747.3 431.3,747.5 C433.1,747.7 434.6,746.3 434.5,744.5 Z" fill="#f6918a"/>
<path d="M442.3,741.4 C443.0,739.7 442.5,735.3 442.6,731.9 C442.6,728.5 442.7,724.7 442.7,721.0 C442.8,717.4 443.0,713.4 442.7,710.2 C442.5,707.1 442.2,704.2 441.3,702.0 C440.4,699.7 439.4,697.6 437.2,696.5 C435.1,695.4 431.2,694.7 428.5,695.4 C425.9,696.1 422.7,698.5 421.3,700.4 C420.0,702.4 420.1,704.7 420.3,707.2 C420.6,709.6 421.7,712.2 422.9,715.2 C424.2,718.1 426.3,721.6 428.0,724.7 C429.7,727.9 431.6,731.3 433.3,734.2 C434.9,737.2 436.5,741.3 438.0,742.5 C439.5,743.7 441.5,743.2 442.3,741.4 Z" fill="#f6918a"/>
<path d="M452.3,743.6 C453.9,742.8 455.9,739.4 457.9,736.9 C460.0,734.4 462.3,731.4 464.5,728.7 C466.7,725.9 469.2,722.9 470.9,720.3 C472.5,717.7 474.0,715.4 474.6,713.1 C475.2,710.8 475.6,708.5 474.6,706.4 C473.5,704.3 470.7,701.5 468.2,700.4 C465.7,699.4 461.7,699.3 459.5,700.0 C457.2,700.7 455.9,702.6 454.7,704.6 C453.5,706.7 452.8,709.3 452.1,712.3 C451.4,715.4 451.0,719.2 450.5,722.7 C450.0,726.2 449.5,730.0 449.1,733.2 C448.7,736.4 447.7,740.2 448.2,741.9 C448.8,743.7 450.7,744.5 452.3,743.6 Z" fill="#f6918a"/>
<path d="M459.0,751.4 C460.6,751.8 463.9,750.5 466.8,749.9 C469.8,749.2 473.5,748.2 476.8,747.4 C480.1,746.5 483.8,745.7 486.6,744.7 C489.4,743.7 491.9,742.7 493.7,741.3 C495.5,739.8 497.1,738.4 497.5,736.1 C497.9,733.8 497.3,729.9 496.0,727.5 C494.6,725.1 491.5,722.7 489.3,721.9 C487.1,721.1 485.0,721.7 482.9,722.6 C480.7,723.4 478.7,725.1 476.4,727.0 C474.1,729.0 471.6,731.8 469.2,734.2 C466.8,736.6 464.1,739.3 462.0,741.5 C460.0,743.8 457.3,746.0 456.8,747.6 C456.2,749.2 457.3,751.0 459.0,751.4 Z" fill="#f6918a"/>
<path d="M459.6,761.6 C460.7,762.9 463.8,763.9 466.5,765.1 C469.1,766.3 472.6,767.8 475.7,769.1 C478.8,770.3 482.2,771.9 485.0,772.8 C487.8,773.7 490.3,774.4 492.6,774.3 C494.9,774.3 497.0,774.1 498.7,772.5 C500.3,770.9 502.2,767.4 502.6,764.7 C502.9,762.0 501.9,758.2 500.7,756.2 C499.5,754.2 497.4,753.5 495.2,752.9 C493.0,752.3 490.4,752.4 487.5,752.6 C484.5,752.7 480.9,753.5 477.6,754.0 C474.3,754.5 470.5,755.0 467.6,755.6 C464.7,756.1 461.5,756.3 460.1,757.3 C458.8,758.3 458.6,760.3 459.6,761.6 Z" fill="#f6918a"/>
<path d="M454.4,769.8 C454.6,771.6 456.8,774.2 458.3,776.9 C459.9,779.5 461.9,782.7 463.8,785.5 C465.6,788.4 467.5,791.7 469.3,794.0 C471.2,796.4 472.9,798.5 474.8,799.8 C476.7,801.0 478.6,802.1 480.9,801.8 C483.2,801.4 486.8,799.7 488.6,797.6 C490.4,795.6 491.8,791.9 491.9,789.6 C492.0,787.3 490.7,785.5 489.2,783.7 C487.8,781.9 485.5,780.5 483.0,778.9 C480.4,777.3 477.0,775.8 473.9,774.2 C470.9,772.7 467.5,771.0 464.8,769.7 C462.0,768.5 459.1,766.6 457.4,766.6 C455.6,766.6 454.3,768.1 454.4,769.8 Z" fill="#f6918a"/>
<path d="M445.7,773.6 C444.9,775.2 445.4,779.1 445.2,782.3 C445.1,785.5 445.0,789.4 445.0,792.9 C444.9,796.4 444.7,800.3 444.9,803.4 C445.1,806.4 445.4,809.2 446.3,811.4 C447.2,813.6 448.2,815.6 450.3,816.7 C452.4,817.7 456.3,818.3 459.0,817.7 C461.7,817.0 464.8,814.6 466.2,812.7 C467.6,810.8 467.5,808.6 467.3,806.2 C467.0,803.8 466.0,801.3 464.7,798.4 C463.5,795.6 461.4,792.3 459.7,789.2 C458.0,786.1 456.2,782.8 454.6,780.0 C452.9,777.2 451.5,773.6 450.0,772.5 C448.5,771.4 446.5,771.9 445.7,773.6 Z" fill="#f6918a"/>
<path d="M436.2,771.6 C434.6,772.5 432.7,776.0 430.8,778.6 C428.8,781.1 426.6,784.2 424.5,787.0 C422.5,789.9 420.0,792.9 418.5,795.6 C416.9,798.3 415.5,800.6 415.0,803.0 C414.4,805.3 414.1,807.5 415.2,809.6 C416.4,811.7 419.2,814.4 421.8,815.4 C424.3,816.4 428.3,816.3 430.5,815.5 C432.8,814.7 434.0,812.8 435.1,810.7 C436.3,808.6 436.9,805.9 437.5,802.9 C438.1,799.9 438.3,796.0 438.7,792.5 C439.1,789.0 439.5,785.2 439.7,782.0 C440.0,778.8 440.9,774.9 440.3,773.2 C439.7,771.5 437.8,770.8 436.2,771.6 Z" fill="#f6918a"/>
<path d="M429.9,765.4 C428.1,765.3 424.6,767.2 421.6,768.3 C418.6,769.5 415.1,770.9 411.8,772.2 C408.6,773.5 404.9,774.9 402.1,776.3 C399.4,777.7 397.0,779.0 395.3,780.7 C393.6,782.4 392.1,784.1 392.0,786.4 C391.9,788.8 392.8,792.6 394.5,794.8 C396.1,797.0 399.6,799.0 401.9,799.5 C404.2,800.0 406.2,799.1 408.3,797.9 C410.4,796.8 412.3,794.8 414.4,792.6 C416.5,790.3 418.8,787.1 421.0,784.4 C423.1,781.6 425.5,778.6 427.4,776.0 C429.3,773.4 432.1,770.7 432.5,768.9 C433.0,767.1 431.7,765.5 429.9,765.4 Z" fill="#f6918a"/>
<path d="M428.0,755.0 C426.5,753.8 421.9,753.2 418.5,752.3 C415.2,751.3 411.4,750.2 407.9,749.3 C404.4,748.3 400.5,747.1 397.3,746.5 C394.1,745.9 391.3,745.4 388.8,745.7 C386.3,746.0 384.0,746.5 382.3,748.2 C380.7,750.0 379.1,753.6 379.0,756.4 C379.0,759.1 380.5,762.8 382.1,764.6 C383.6,766.4 385.9,767.0 388.4,767.3 C390.9,767.7 393.7,767.4 396.9,766.9 C400.1,766.4 404.1,765.3 407.6,764.5 C411.2,763.6 415.0,762.7 418.3,761.9 C421.7,761.0 426.3,760.6 428.0,759.4 C429.6,758.3 429.6,756.2 428.0,755.0 Z" fill="#f6918a"/>
<circle cx="444" cy="757.5" r="16" fill="#fcc59f"/>
<circle cx="444" cy="757.5" r="7.3" fill="#f8aa7d"/>
<path d="M318.0,600.0 C320.8,601.0 328.0,603.7 335.0,606.0 C342.0,608.3 351.7,611.7 360.0,614.0 C368.3,616.3 376.7,620.0 385.0,620.0 C393.3,620.0 400.8,616.7 410.0,614.0 C419.2,611.3 431.3,607.7 440.0,604.0 C448.7,600.3 455.3,597.7 462.0,592.0 C468.7,586.3 474.5,576.2 480.0,570.0 C485.5,563.8 492.5,557.5 495.0,555.0" fill="none" stroke="#7a9a5c" stroke-width="0.55"/>
<path d="M320.0,604.0 C322.8,605.0 330.3,607.7 337.0,610.0 C343.7,612.3 351.8,615.8 360.0,618.0 C368.2,620.2 377.3,623.2 386.0,623.0 C394.7,622.8 402.7,619.7 412.0,617.0 C421.3,614.3 433.0,610.5 442.0,607.0 C451.0,603.5 459.0,601.8 466.0,596.0 C473.0,590.2 478.5,578.8 484.0,572.0 C489.5,565.2 496.5,557.8 499.0,555.0" fill="none" stroke="#7a9a5c" stroke-width="0.55"/>
<path d="M320.0,612.0 C323.3,613.0 333.3,615.0 340.0,618.0 C346.7,621.0 354.2,624.7 360.0,630.0 C365.8,635.3 371.3,643.3 375.0,650.0 C378.7,656.7 380.3,664.2 382.0,670.0 C383.7,675.8 384.5,682.5 385.0,685.0" fill="none" stroke="#7a9a5c" stroke-width="0.55"/>
<path d="M322.0,614.0 C325.5,615.2 336.2,617.8 343.0,621.0 C349.8,624.2 357.2,627.8 363.0,633.0 C368.8,638.2 374.3,645.8 378.0,652.0 C381.7,658.2 383.5,664.5 385.0,670.0 C386.5,675.5 386.7,682.5 387.0,685.0" fill="none" stroke="#7a9a5c" stroke-width="0.55"/>
<path d="M455.0,608.0 C458.3,608.7 469.5,608.3 475.0,612.0 C480.5,615.7 484.2,622.8 488.0,630.0 C491.8,637.2 494.7,646.7 498.0,655.0 C501.3,663.3 505.5,670.8 508.0,680.0 C510.5,689.2 512.3,700.0 513.0,710.0 C513.7,720.0 512.2,735.0 512.0,740.0" fill="none" stroke="#7a9a5c" stroke-width="0.55"/>
<path d="M452.0,612.0 C455.3,612.7 466.7,612.3 472.0,616.0 C477.3,619.7 480.3,627.0 484.0,634.0 C487.7,641.0 490.7,649.7 494.0,658.0 C497.3,666.3 501.5,675.0 504.0,684.0 C506.5,693.0 508.2,702.7 509.0,712.0 C509.8,721.3 509.0,735.3 509.0,740.0" fill="none" stroke="#7a9a5c" stroke-width="0.55"/>
<path d="M470.0,600.0 C472.5,597.5 481.3,591.7 485.0,585.0 C488.7,578.3 490.8,564.2 492.0,560.0" fill="none" stroke="#7a9a5c" stroke-width="0.55"/>
<ellipse cx="325" cy="602.5" rx="4.3" ry="2.2" transform="rotate(10 325 602.5)" fill="#1b9346"/>
<ellipse cx="328.7" cy="614" rx="4.3" ry="2.2" transform="rotate(30 328.7 614)" fill="#1b9346"/>
<ellipse cx="349.8" cy="611.3" rx="4.3" ry="2.2" transform="rotate(5 349.8 611.3)" fill="#1b9346"/>
<ellipse cx="348" cy="619.7" rx="4.3" ry="2.2" transform="rotate(35 348 619.7)" fill="#1b9346"/>
<ellipse cx="380.5" cy="618.6" rx="4.3" ry="2.2" transform="rotate(-10 380.5 618.6)" fill="#1b9346"/>
<ellipse cx="399.7" cy="616" rx="4.3" ry="2.2" transform="rotate(-20 399.7 616)" fill="#1b9346"/>
<ellipse cx="415" cy="612" rx="4.3" ry="2.2" transform="rotate(-25 415 612)" fill="#1b9346"/>
<ellipse cx="440" cy="602.5" rx="4.3" ry="2.2" transform="rotate(-15 440 602.5)" fill="#1b9346"/>
<ellipse cx="455.2" cy="609.4" rx="4.3" ry="2.2" transform="rotate(30 455.2 609.4)" fill="#1b9346"/>
<ellipse cx="461" cy="596.7" rx="4.3" ry="2.2" transform="rotate(-70 461 596.7)" fill="#1b9346"/>
<ellipse cx="475.5" cy="607.5" rx="4.3" ry="2.2" transform="rotate(60 475.5 607.5)" fill="#1b9346"/>
<ellipse cx="481.3" cy="571.8" rx="4.3" ry="2.2" transform="rotate(-80 481.3 571.8)" fill="#1b9346"/>
<ellipse cx="493.5" cy="566" rx="4.3" ry="2.2" transform="rotate(-70 493.5 566)" fill="#1b9346"/>
<ellipse cx="487.8" cy="594.8" rx="4.3" ry="2.2" transform="rotate(80 487.8 594.8)" fill="#1b9346"/>
<ellipse cx="480" cy="625.5" rx="4.3" ry="2.2" transform="rotate(80 480 625.5)" fill="#1b9346"/>
<ellipse cx="484" cy="616" rx="4.3" ry="2.2" transform="rotate(50 484 616)" fill="#1b9346"/>
<ellipse cx="493.5" cy="642.7" rx="4.3" ry="2.2" transform="rotate(70 493.5 642.7)" fill="#1b9346"/>
<ellipse cx="499.3" cy="660" rx="4.3" ry="2.2" transform="rotate(70 499.3 660)" fill="#1b9346"/>
<ellipse cx="509" cy="685" rx="4.3" ry="2.2" transform="rotate(80 509 685)" fill="#1b9346"/>
<ellipse cx="512.7" cy="698.3" rx="4.3" ry="2.2" transform="rotate(80 512.7 698.3)" fill="#1b9346"/>
<ellipse cx="510.8" cy="719.4" rx="4.3" ry="2.2" transform="rotate(90 510.8 719.4)" fill="#1b9346"/>
<ellipse cx="512.7" cy="732.8" rx="4.3" ry="2.2" transform="rotate(90 512.7 732.8)" fill="#1b9346"/>
<ellipse cx="367" cy="635" rx="4.3" ry="2.2" transform="rotate(60 367 635)" fill="#1b9346"/>
<ellipse cx="380.5" cy="663.8" rx="4.3" ry="2.2" transform="rotate(70 380.5 663.8)" fill="#1b9346"/>
<ellipse cx="382.4" cy="681" rx="4.3" ry="2.2" transform="rotate(60 382.4 681)" fill="#1b9346"/>
<ellipse cx="492" cy="623" rx="4.3" ry="2.2" transform="rotate(75 492 623)" fill="#1b9346"/>
<ellipse cx="354" cy="627" rx="4.3" ry="2.2" transform="rotate(40 354 627)" fill="#1b9346"/>
<ellipse cx="337" cy="604" rx="4.3" ry="2.2" transform="rotate(20 337 604)" fill="#1b9346"/>
<ellipse cx="428" cy="607" rx="4.3" ry="2.2" transform="rotate(-20 428 607)" fill="#1b9346"/>
<ellipse cx="503" cy="672" rx="4.3" ry="2.2" transform="rotate(75 503 672)" fill="#1b9346"/>
</g>
<polyline points="141,576.5 240,576.5" fill="none" stroke="#333" stroke-width="1.0"/>
<text x="185" y="575" textLength="49.0" lengthAdjust="spacingAndGlyphs" fill="#1e1e1e" style="font-size:6.9px;font-weight:bold">ADIPOSE TISSUE</text>
<polyline points="96.7,595.4 231.7,595.4" fill="none" stroke="#444" stroke-width="1.0"/>
<text x="215.8" y="593.7" textLength="9.2" lengthAdjust="spacingAndGlyphs" fill="#1e1e1e" style="font-size:6.9px;font-weight:bold">RIB</text>
<polyline points="174.6,632.7 271,632.7" fill="none" stroke="#3a3a3a" stroke-width="1.0"/>
<text x="237.3" y="631.3" textLength="27.4" lengthAdjust="spacingAndGlyphs" fill="#1e1e1e" style="font-size:6.9px;font-weight:bold">LOBULES</text>
<polyline points="220,685.3 244,662.7 291.7,662.7" fill="none" stroke="#333" stroke-width="1.0"/>
<text x="251.3" y="660.7" textLength="33.4" lengthAdjust="spacingAndGlyphs" fill="#1e1e1e" style="font-size:6.9px;font-weight:bold">MILK DUCT</text>
<polyline points="247.3,696.7 256,687.3 293,687.3" fill="none" stroke="#333" stroke-width="1.0"/>
<text x="266.7" y="685.3" textLength="20.6" lengthAdjust="spacingAndGlyphs" fill="#1e1e1e" style="font-size:6.9px;font-weight:bold">NIPPLE</text>
<polyline points="236,711.7 289.3,711.7" fill="none" stroke="#8a8a8a" stroke-width="1.0"/>
<text x="259.3" y="709.6" textLength="24.0" lengthAdjust="spacingAndGlyphs" fill="#1e1e1e" style="font-size:6.9px;font-weight:bold">AREOLA</text>
<polyline points="191,727 222,752 298.4,752" fill="none" stroke="#333" stroke-width="1.0"/>
<text x="232.4" y="750.4" textLength="60.6" lengthAdjust="spacingAndGlyphs" fill="#1e1e1e" style="font-size:6.9px;font-weight:bold">CONNECTIVE TISSUE</text>
<polyline points="124.6,722.5 200,783.2 277,783.2" fill="none" stroke="#333" stroke-width="1.0"/>
<text x="207" y="781.6" textLength="61.4" lengthAdjust="spacingAndGlyphs" fill="#1e1e1e" style="font-size:6.9px;font-weight:bold">PECTORAL MUSCLES</text>
<polyline points="103.75,810 237.6,810" fill="none" stroke="#8a8a8a" stroke-width="1.0"/>
<text x="188" y="808.4" textLength="37.0" lengthAdjust="spacingAndGlyphs" fill="#1e1e1e" style="font-size:6.9px;font-weight:bold">CHEST WALL</text>
<text x="307" y="681.7" textLength="35.5" lengthAdjust="spacingAndGlyphs" fill="#1e1e1e" style="font-size:6.9px;font-weight:bold">LYMPHOTIC</text>
<polyline points="305.8,692 348.3,692 378.3,666.7" fill="none" stroke="#333" stroke-width="1.0"/>
<text x="307" y="689.7" textLength="21.3" lengthAdjust="spacingAndGlyphs" fill="#1e1e1e" style="font-size:6.9px;font-weight:bold">NODES</text>
<polyline points="317.5,722 399.7,722" fill="none" stroke="#8a8a8a" stroke-width="1.0"/>
<text x="321.3" y="719.7" textLength="27.0" lengthAdjust="spacingAndGlyphs" fill="#1e1e1e" style="font-size:6.9px;font-weight:bold">LOBULES</text>
<polyline points="317.5,741.2 432,741.2" fill="none" stroke="#333" stroke-width="1.0"/>
<text x="319.7" y="738.3" textLength="33.6" lengthAdjust="spacingAndGlyphs" fill="#1e1e1e" style="font-size:6.9px;font-weight:bold">MILK DUCT</text>
<polyline points="317.6,758 445.6,758" fill="none" stroke="#333" stroke-width="1.0"/>
<text x="321.7" y="755" textLength="20.0" lengthAdjust="spacingAndGlyphs" fill="#1e1e1e" style="font-size:6.9px;font-weight:bold">NIPPLE</text>
<polyline points="317.6,770.4 443.7,770.4" fill="none" stroke="#8a8a8a" stroke-width="1.0"/>
<text x="321" y="768" textLength="24.6" lengthAdjust="spacingAndGlyphs" fill="#1e1e1e" style="font-size:6.9px;font-weight:bold">AREOLA</text>
<polyline points="319,810 395,810" fill="none" stroke="#444" stroke-width="1.0"/>
<text x="321" y="808" textLength="14.0" lengthAdjust="spacingAndGlyphs" fill="#1e1e1e" style="font-size:6.9px;font-weight:bold">SKIN</text></svg>
</body></html>
